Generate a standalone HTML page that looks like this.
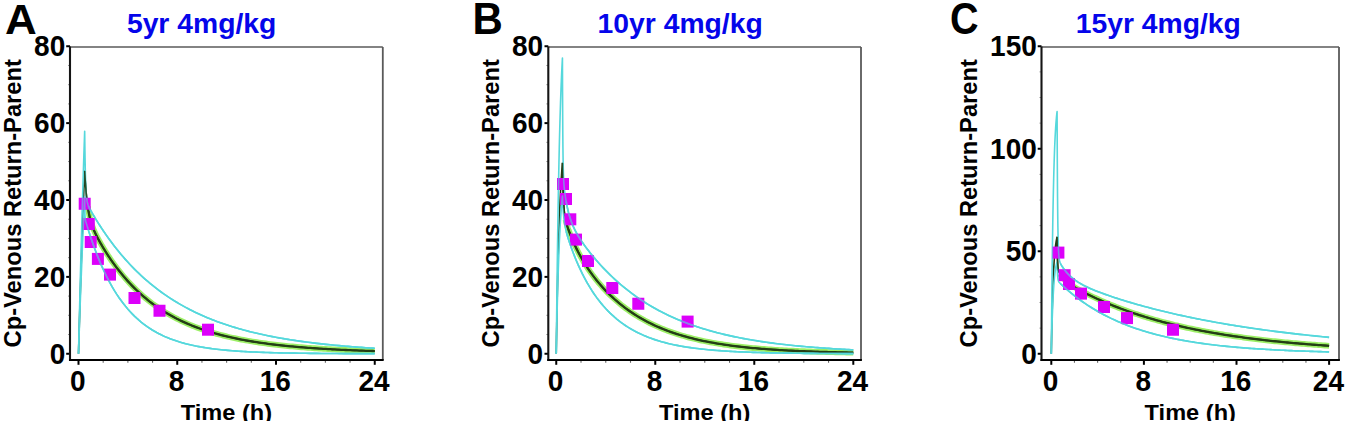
<!DOCTYPE html>
<html><head><meta charset="utf-8"><style>
html,body{margin:0;padding:0;background:#fff;}
svg{display:block;}
text{font-family:'Liberation Sans', sans-serif;}
</style></head><body>
<svg width="1350" height="424" viewBox="0 0 1350 424">
<rect width="1350" height="424" fill="#fff"/>
<line x1="70" y1="47" x2="382.8" y2="47" stroke="#5a5a5a" stroke-width="1.6"/>
<line x1="382.8" y1="47" x2="382.8" y2="360" stroke="#5a5a5a" stroke-width="1.8"/>
<line x1="66.2" y1="353.75" x2="70" y2="353.75" stroke="#000" stroke-width="2"/>
<line x1="68" y1="334.53" x2="70" y2="334.53" stroke="#999" stroke-width="1"/>
<line x1="68" y1="315.31" x2="70" y2="315.31" stroke="#999" stroke-width="1"/>
<line x1="68" y1="296.09" x2="70" y2="296.09" stroke="#999" stroke-width="1"/>
<line x1="66.2" y1="276.88" x2="70" y2="276.88" stroke="#000" stroke-width="2"/>
<line x1="68" y1="257.66" x2="70" y2="257.66" stroke="#999" stroke-width="1"/>
<line x1="68" y1="238.44" x2="70" y2="238.44" stroke="#999" stroke-width="1"/>
<line x1="68" y1="219.22" x2="70" y2="219.22" stroke="#999" stroke-width="1"/>
<line x1="66.2" y1="200.00" x2="70" y2="200.00" stroke="#000" stroke-width="2"/>
<line x1="68" y1="180.78" x2="70" y2="180.78" stroke="#999" stroke-width="1"/>
<line x1="68" y1="161.56" x2="70" y2="161.56" stroke="#999" stroke-width="1"/>
<line x1="68" y1="142.34" x2="70" y2="142.34" stroke="#999" stroke-width="1"/>
<line x1="66.2" y1="123.12" x2="70" y2="123.12" stroke="#000" stroke-width="2"/>
<line x1="68" y1="103.91" x2="70" y2="103.91" stroke="#999" stroke-width="1"/>
<line x1="68" y1="84.69" x2="70" y2="84.69" stroke="#999" stroke-width="1"/>
<line x1="68" y1="65.47" x2="70" y2="65.47" stroke="#999" stroke-width="1"/>
<line x1="66.2" y1="46.25" x2="70" y2="46.25" stroke="#000" stroke-width="2"/>
<line x1="78.50" y1="360" x2="78.50" y2="364.8" stroke="#000" stroke-width="2"/>
<line x1="103.19" y1="360" x2="103.19" y2="362.8" stroke="#666" stroke-width="1.1"/>
<line x1="127.88" y1="360" x2="127.88" y2="362.8" stroke="#666" stroke-width="1.1"/>
<line x1="152.56" y1="360" x2="152.56" y2="362.8" stroke="#666" stroke-width="1.1"/>
<line x1="177.25" y1="360" x2="177.25" y2="364.8" stroke="#000" stroke-width="2"/>
<line x1="201.94" y1="360" x2="201.94" y2="362.8" stroke="#666" stroke-width="1.1"/>
<line x1="226.62" y1="360" x2="226.62" y2="362.8" stroke="#666" stroke-width="1.1"/>
<line x1="251.31" y1="360" x2="251.31" y2="362.8" stroke="#666" stroke-width="1.1"/>
<line x1="276.00" y1="360" x2="276.00" y2="364.8" stroke="#000" stroke-width="2"/>
<line x1="300.69" y1="360" x2="300.69" y2="362.8" stroke="#666" stroke-width="1.1"/>
<line x1="325.38" y1="360" x2="325.38" y2="362.8" stroke="#666" stroke-width="1.1"/>
<line x1="350.06" y1="360" x2="350.06" y2="362.8" stroke="#666" stroke-width="1.1"/>
<line x1="374.75" y1="360" x2="374.75" y2="364.8" stroke="#000" stroke-width="2"/>
<line x1="70" y1="46.5" x2="70" y2="361" stroke="#151515" stroke-width="2.1"/>
<line x1="69" y1="360" x2="383.7" y2="360" stroke="#000" stroke-width="2"/>
<text transform="translate(65.2,363.55) scale(1,1.05)" text-anchor="end" font-size="28" font-weight="bold">0</text>
<text transform="translate(65.2,286.68) scale(1,1.05)" text-anchor="end" font-size="28" font-weight="bold">20</text>
<text transform="translate(65.2,209.80) scale(1,1.05)" text-anchor="end" font-size="28" font-weight="bold">40</text>
<text transform="translate(65.2,132.93) scale(1,1.05)" text-anchor="end" font-size="28" font-weight="bold">60</text>
<text transform="translate(65.2,56.05) scale(1,1.05)" text-anchor="end" font-size="28" font-weight="bold">80</text>
<text transform="translate(77.80,390.9) scale(1,1.05)" text-anchor="middle" font-size="28" font-weight="bold">0</text>
<text transform="translate(176.55,390.9) scale(1,1.05)" text-anchor="middle" font-size="28" font-weight="bold">8</text>
<text transform="translate(275.30,390.9) scale(1,1.05)" text-anchor="middle" font-size="28" font-weight="bold">16</text>
<text transform="translate(374.05,390.9) scale(1,1.05)" text-anchor="middle" font-size="28" font-weight="bold">24</text>
<text transform="translate(226.40,420.0) scale(1,0.95)" text-anchor="middle" font-size="23.6" font-weight="bold">Time (h)</text>
<text transform="translate(20.6,203.3) rotate(-90)" x="0" y="0" text-anchor="middle" font-size="23.7" font-weight="bold">Cp-Venous Return-Parent</text>
<text transform="translate(5.0,34.1) scale(1.0,0.965)" font-size="44" font-weight="bold">A</text>
<text transform="translate(126.9,33.4)" font-size="28.3" font-weight="bold" fill="#0505ea">5yr 4mg/kg</text>
<path d="M87.76,206.42 L87.88,207.26 L88.00,208.08 L88.13,208.86 L88.25,209.63 L88.38,210.37 L88.50,211.08 L88.62,211.78 L88.75,212.45 L88.87,213.10 L88.99,213.74 L89.12,214.35 L89.24,214.95 L89.36,215.53 L89.49,216.10 L89.61,216.65 L89.73,217.19 L89.86,217.71 L89.98,218.22 L90.10,218.72 L90.23,219.20 L90.35,219.68 L90.47,220.14 L90.60,220.59 L90.72,221.04 L90.84,221.47 L91.09,222.31 L91.56,223.81 L92.03,225.21 L92.50,226.53 L92.96,227.77 L93.43,228.96 L93.90,230.09 L94.37,231.17 L94.84,232.22 L95.31,233.23 L95.77,234.22 L96.24,235.18 L96.71,236.11 L97.18,237.03 L97.65,237.93 L98.12,238.82 L98.59,239.69 L99.05,240.55 L99.52,241.40 L99.99,242.24 L100.46,243.06 L100.93,243.88 L101.40,244.69 L101.86,245.49 L102.33,246.29 L102.80,247.08 L103.27,247.85 L103.74,248.63 L104.21,249.39 L104.68,250.15 L105.14,250.91 L105.61,251.65 L106.08,252.39 L106.55,253.13 L107.02,253.86 L107.49,254.58 L107.95,255.30 L108.42,256.01 L108.89,256.71 L109.36,257.42 L109.98,258.33 L112.20,261.55 L114.43,264.66 L116.65,267.66 L118.88,270.55 L121.10,273.33 L123.33,276.02 L125.55,278.62 L127.78,281.12 L130.00,283.54 L132.23,285.87 L134.45,288.11 L136.68,290.28 L138.90,292.37 L141.13,294.39 L143.35,296.34 L145.58,298.23 L147.80,300.04 L150.03,301.79 L152.25,303.49 L154.48,305.12 L156.70,306.70 L158.93,308.22 L161.15,309.69 L163.38,311.11 L165.60,312.48 L167.83,313.80 L170.05,315.08 L172.28,316.32 L174.50,317.51 L176.73,318.66 L178.95,319.77 L181.18,320.85 L183.40,321.89 L185.63,322.89 L187.85,323.86 L190.08,324.80 L192.30,325.70 L194.53,326.58 L196.75,327.42 L198.98,328.24 L201.20,329.03 L203.43,329.79 L205.65,330.53 L207.88,331.25 L210.10,331.94 L212.33,332.60 L214.55,333.25 L216.78,333.87 L219.00,334.48 L221.23,335.06 L223.45,335.63 L225.68,336.17 L227.90,336.70 L230.13,337.21 L232.35,337.71 L234.58,338.19 L236.80,338.65 L239.03,339.10 L241.25,339.53 L243.48,339.95 L245.70,340.36 L247.93,340.75 L250.15,341.13 L252.38,341.50 L254.60,341.86 L256.83,342.21 L259.05,342.54 L261.28,342.87 L263.50,343.18 L265.73,343.48 L267.95,343.78 L270.18,344.07 L272.40,344.34 L274.63,344.61 L276.85,344.87 L279.08,345.12 L281.30,345.37 L283.53,345.60 L285.75,345.83 L287.98,346.06 L290.20,346.27 L292.43,346.48 L294.65,346.68 L296.88,346.88 L299.10,347.07 L301.33,347.26 L303.55,347.43 L305.78,347.61 L308.00,347.78 L310.23,347.94 L312.45,348.10 L314.68,348.25 L316.90,348.40 L319.13,348.55 L321.35,348.69 L323.58,348.83 L325.80,348.96 L328.03,349.09 L330.25,349.21 L332.48,349.33 L334.70,349.45 L336.93,349.57 L339.15,349.68 L341.38,349.79 L343.60,349.89 L345.83,349.99 L348.05,350.09 L350.28,350.19 L352.50,350.28 L354.73,350.37 L356.95,350.46 L359.18,350.55 L361.40,350.63 L363.63,350.71 L365.85,350.79 L368.08,350.87 L370.30,350.94 L372.53,351.01 L374.75,351.08" fill="none" stroke="#9cef66" stroke-width="5.8" stroke-linejoin="round"/>
<path d="M78.50,353.75 L78.66,348.09 L78.82,342.49 L78.97,336.95 L79.13,331.47 L79.29,326.04 L79.45,320.67 L79.61,315.35 L79.77,310.08 L79.92,304.87 L80.08,299.71 L80.24,294.61 L80.40,289.56 L80.56,284.55 L80.72,279.60 L80.87,274.70 L81.03,269.85 L81.19,265.05 L81.35,260.30 L81.51,255.60 L81.67,250.95 L81.82,246.34 L81.98,241.78 L82.14,237.26 L82.30,232.80 L82.46,228.37 L82.61,224.00 L82.77,219.66 L82.93,215.38 L83.09,211.13 L83.25,206.93 L83.41,202.77 L83.56,198.66 L83.72,194.58 L83.88,190.55 L84.04,186.56 L84.20,182.61 L84.36,178.70 L84.51,174.83 L84.67,171.00 L84.67,171.00 L84.80,173.20 L84.92,175.30 L85.04,177.33 L85.17,179.27 L85.29,181.13 L85.41,182.91 L85.54,184.63 L85.66,186.27 L85.78,187.86 L85.91,189.38 L86.03,190.84 L86.15,192.24 L86.28,193.59 L86.40,194.89 L86.52,196.14 L86.65,197.35 L86.77,198.51 L86.89,199.63 L87.02,200.70 L87.14,201.74 L87.26,202.75 L87.39,203.71 L87.51,204.65 L87.63,205.55 L87.76,206.42 L87.88,207.26 L88.00,208.08 L88.13,208.86 L88.25,209.63 L88.38,210.37 L88.50,211.08 L88.62,211.78 L88.75,212.45 L88.87,213.10 L88.99,213.74 L89.12,214.35 L89.24,214.95 L89.36,215.53 L89.49,216.10 L89.61,216.65 L89.73,217.19 L89.86,217.71 L89.98,218.22 L90.10,218.72 L90.23,219.20 L90.35,219.68 L90.47,220.14 L90.60,220.59 L90.72,221.04 L90.84,221.47 L91.09,222.31 L91.56,223.81 L92.03,225.21 L92.50,226.53 L92.96,227.77 L93.43,228.96 L93.90,230.09 L94.37,231.17 L94.84,232.22 L95.31,233.23 L95.77,234.22 L96.24,235.18 L96.71,236.11 L97.18,237.03 L97.65,237.93 L98.12,238.82 L98.59,239.69 L99.05,240.55 L99.52,241.40 L99.99,242.24 L100.46,243.06 L100.93,243.88 L101.40,244.69 L101.86,245.49 L102.33,246.29 L102.80,247.08 L103.27,247.85 L103.74,248.63 L104.21,249.39 L104.68,250.15 L105.14,250.91 L105.61,251.65 L106.08,252.39 L106.55,253.13 L107.02,253.86 L107.49,254.58 L107.95,255.30 L108.42,256.01 L108.89,256.71 L109.36,257.42 L109.98,258.33 L112.20,261.55 L114.43,264.66 L116.65,267.66 L118.88,270.55 L121.10,273.33 L123.33,276.02 L125.55,278.62 L127.78,281.12 L130.00,283.54 L132.23,285.87 L134.45,288.11 L136.68,290.28 L138.90,292.37 L141.13,294.39 L143.35,296.34 L145.58,298.23 L147.80,300.04 L150.03,301.79 L152.25,303.49 L154.48,305.12 L156.70,306.70 L158.93,308.22 L161.15,309.69 L163.38,311.11 L165.60,312.48 L167.83,313.80 L170.05,315.08 L172.28,316.32 L174.50,317.51 L176.73,318.66 L178.95,319.77 L181.18,320.85 L183.40,321.89 L185.63,322.89 L187.85,323.86 L190.08,324.80 L192.30,325.70 L194.53,326.58 L196.75,327.42 L198.98,328.24 L201.20,329.03 L203.43,329.79 L205.65,330.53 L207.88,331.25 L210.10,331.94 L212.33,332.60 L214.55,333.25 L216.78,333.87 L219.00,334.48 L221.23,335.06 L223.45,335.63 L225.68,336.17 L227.90,336.70 L230.13,337.21 L232.35,337.71 L234.58,338.19 L236.80,338.65 L239.03,339.10 L241.25,339.53 L243.48,339.95 L245.70,340.36 L247.93,340.75 L250.15,341.13 L252.38,341.50 L254.60,341.86 L256.83,342.21 L259.05,342.54 L261.28,342.87 L263.50,343.18 L265.73,343.48 L267.95,343.78 L270.18,344.07 L272.40,344.34 L274.63,344.61 L276.85,344.87 L279.08,345.12 L281.30,345.37 L283.53,345.60 L285.75,345.83 L287.98,346.06 L290.20,346.27 L292.43,346.48 L294.65,346.68 L296.88,346.88 L299.10,347.07 L301.33,347.26 L303.55,347.43 L305.78,347.61 L308.00,347.78 L310.23,347.94 L312.45,348.10 L314.68,348.25 L316.90,348.40 L319.13,348.55 L321.35,348.69 L323.58,348.83 L325.80,348.96 L328.03,349.09 L330.25,349.21 L332.48,349.33 L334.70,349.45 L336.93,349.57 L339.15,349.68 L341.38,349.79 L343.60,349.89 L345.83,349.99 L348.05,350.09 L350.28,350.19 L352.50,350.28 L354.73,350.37 L356.95,350.46 L359.18,350.55 L361.40,350.63 L363.63,350.71 L365.85,350.79 L368.08,350.87 L370.30,350.94 L372.53,351.01 L374.75,351.08" fill="none" stroke="#243e16" stroke-width="1.6" stroke-linejoin="round"/>
<path d="M87.76,206.42 L87.88,207.26 L88.00,208.08 L88.13,208.86 L88.25,209.63 L88.38,210.37 L88.50,211.08 L88.62,211.78 L88.75,212.45 L88.87,213.10 L88.99,213.74 L89.12,214.35 L89.24,214.95 L89.36,215.53 L89.49,216.10 L89.61,216.65 L89.73,217.19 L89.86,217.71 L89.98,218.22 L90.10,218.72 L90.23,219.20 L90.35,219.68 L90.47,220.14 L90.60,220.59 L90.72,221.04 L90.84,221.47 L91.09,222.31 L91.56,223.81 L92.03,225.21 L92.50,226.53 L92.96,227.77 L93.43,228.96 L93.90,230.09 L94.37,231.17 L94.84,232.22 L95.31,233.23 L95.77,234.22 L96.24,235.18 L96.71,236.11 L97.18,237.03 L97.65,237.93 L98.12,238.82 L98.59,239.69 L99.05,240.55 L99.52,241.40 L99.99,242.24 L100.46,243.06 L100.93,243.88 L101.40,244.69 L101.86,245.49 L102.33,246.29 L102.80,247.08 L103.27,247.85 L103.74,248.63 L104.21,249.39 L104.68,250.15 L105.14,250.91 L105.61,251.65 L106.08,252.39 L106.55,253.13 L107.02,253.86 L107.49,254.58 L107.95,255.30 L108.42,256.01 L108.89,256.71 L109.36,257.42 L109.98,258.33 L112.20,261.55 L114.43,264.66 L116.65,267.66 L118.88,270.55 L121.10,273.33 L123.33,276.02 L125.55,278.62 L127.78,281.12 L130.00,283.54 L132.23,285.87 L134.45,288.11 L136.68,290.28 L138.90,292.37 L141.13,294.39 L143.35,296.34 L145.58,298.23 L147.80,300.04 L150.03,301.79 L152.25,303.49 L154.48,305.12 L156.70,306.70 L158.93,308.22 L161.15,309.69 L163.38,311.11 L165.60,312.48 L167.83,313.80 L170.05,315.08 L172.28,316.32 L174.50,317.51 L176.73,318.66 L178.95,319.77 L181.18,320.85 L183.40,321.89 L185.63,322.89 L187.85,323.86 L190.08,324.80 L192.30,325.70 L194.53,326.58 L196.75,327.42 L198.98,328.24 L201.20,329.03 L203.43,329.79 L205.65,330.53 L207.88,331.25 L210.10,331.94 L212.33,332.60 L214.55,333.25 L216.78,333.87 L219.00,334.48 L221.23,335.06 L223.45,335.63 L225.68,336.17 L227.90,336.70 L230.13,337.21 L232.35,337.71 L234.58,338.19 L236.80,338.65 L239.03,339.10 L241.25,339.53 L243.48,339.95 L245.70,340.36 L247.93,340.75 L250.15,341.13 L252.38,341.50 L254.60,341.86 L256.83,342.21 L259.05,342.54 L261.28,342.87 L263.50,343.18 L265.73,343.48 L267.95,343.78 L270.18,344.07 L272.40,344.34 L274.63,344.61 L276.85,344.87 L279.08,345.12 L281.30,345.37 L283.53,345.60 L285.75,345.83 L287.98,346.06 L290.20,346.27 L292.43,346.48 L294.65,346.68 L296.88,346.88 L299.10,347.07 L301.33,347.26 L303.55,347.43 L305.78,347.61 L308.00,347.78 L310.23,347.94 L312.45,348.10 L314.68,348.25 L316.90,348.40 L319.13,348.55 L321.35,348.69 L323.58,348.83 L325.80,348.96 L328.03,349.09 L330.25,349.21 L332.48,349.33 L334.70,349.45 L336.93,349.57 L339.15,349.68 L341.38,349.79 L343.60,349.89 L345.83,349.99 L348.05,350.09 L350.28,350.19 L352.50,350.28 L354.73,350.37 L356.95,350.46 L359.18,350.55 L361.40,350.63 L363.63,350.71 L365.85,350.79 L368.08,350.87 L370.30,350.94 L372.53,351.01 L374.75,351.08" fill="none" stroke="#243e16" stroke-width="2.3" stroke-linejoin="round"/>
<path d="M78.50,353.75 L78.66,346.86 L78.82,340.05 L78.97,333.30 L79.13,326.62 L79.29,320.01 L79.45,313.47 L79.61,306.99 L79.77,300.58 L79.92,294.24 L80.08,287.96 L80.24,281.75 L80.40,275.59 L80.56,269.50 L80.72,263.48 L80.87,257.51 L81.03,251.61 L81.19,245.76 L81.35,239.98 L81.51,234.25 L81.67,228.59 L81.82,222.98 L81.98,217.42 L82.14,211.93 L82.30,206.49 L82.46,201.10 L82.61,195.78 L82.77,190.50 L82.93,185.28 L83.09,180.11 L83.25,175.00 L83.41,169.94 L83.56,164.92 L83.72,159.96 L83.88,155.06 L84.04,150.20 L84.20,145.39 L84.36,140.63 L84.51,135.91 L84.67,131.25 L84.67,131.25 L84.80,141.53 L84.92,150.33 L85.04,157.87 L85.17,164.34 L85.29,169.89 L85.41,174.66 L85.54,178.76 L85.66,182.29 L85.78,185.34 L85.91,187.97 L86.03,190.25 L86.15,192.23 L86.28,193.95 L86.40,195.45 L86.52,196.77 L86.65,197.92 L86.77,198.94 L86.89,199.84 L87.02,200.64 L87.14,201.35 L87.26,202.00 L87.39,202.58 L87.51,203.11 L87.63,203.59 L87.76,204.04 L87.88,204.45 L88.00,204.83 L88.13,205.19 L88.25,205.53 L88.38,205.85 L88.50,206.16 L88.62,206.45 L88.75,206.74 L88.87,207.01 L88.99,207.27 L89.12,207.53 L89.24,207.78 L89.36,208.03 L89.49,208.27 L89.61,208.51 L89.73,208.74 L89.86,208.98 L89.98,209.21 L90.10,209.43 L90.23,209.66 L90.35,209.88 L90.47,210.10 L90.60,210.33 L90.72,210.54 L90.84,210.76 L91.09,211.20 L91.56,212.01 L92.03,212.82 L92.50,213.62 L92.96,214.42 L93.43,215.21 L93.90,215.99 L94.37,216.77 L94.84,217.55 L95.31,218.32 L95.77,219.08 L96.24,219.84 L96.71,220.60 L97.18,221.35 L97.65,222.10 L98.12,222.85 L98.59,223.59 L99.05,224.32 L99.52,225.05 L99.99,225.78 L100.46,226.50 L100.93,227.22 L101.40,227.93 L101.86,228.64 L102.33,229.35 L102.80,230.05 L103.27,230.74 L103.74,231.44 L104.21,232.13 L104.68,232.81 L105.14,233.49 L105.61,234.17 L106.08,234.84 L106.55,235.51 L107.02,236.18 L107.49,236.84 L107.95,237.50 L108.42,238.15 L108.89,238.80 L109.36,239.45 L109.98,240.29 L112.20,243.28 L114.43,246.20 L116.65,249.03 L118.88,251.78 L121.10,254.46 L123.33,257.07 L125.55,259.60 L127.78,262.07 L130.00,264.47 L132.23,266.81 L134.45,269.08 L136.68,271.29 L138.90,273.44 L141.13,275.53 L143.35,277.56 L145.58,279.54 L147.80,281.47 L150.03,283.35 L152.25,285.17 L154.48,286.95 L156.70,288.68 L158.93,290.36 L161.15,292.00 L163.38,293.59 L165.60,295.14 L167.83,296.65 L170.05,298.12 L172.28,299.55 L174.50,300.94 L176.73,302.30 L178.95,303.62 L181.18,304.90 L183.40,306.15 L185.63,307.37 L187.85,308.56 L190.08,309.71 L192.30,310.83 L194.53,311.93 L196.75,312.99 L198.98,314.03 L201.20,315.04 L203.43,316.02 L205.65,316.98 L207.88,317.91 L210.10,318.82 L212.33,319.71 L214.55,320.57 L216.78,321.41 L219.00,322.23 L221.23,323.02 L223.45,323.80 L225.68,324.55 L227.90,325.29 L230.13,326.01 L232.35,326.70 L234.58,327.38 L236.80,328.05 L239.03,328.69 L241.25,329.32 L243.48,329.93 L245.70,330.53 L247.93,331.11 L250.15,331.68 L252.38,332.23 L254.60,332.77 L256.83,333.29 L259.05,333.80 L261.28,334.30 L263.50,334.78 L265.73,335.26 L267.95,335.72 L270.18,336.17 L272.40,336.60 L274.63,337.03 L276.85,337.44 L279.08,337.85 L281.30,338.24 L283.53,338.63 L285.75,339.00 L287.98,339.37 L290.20,339.72 L292.43,340.07 L294.65,340.41 L296.88,340.74 L299.10,341.06 L301.33,341.37 L303.55,341.68 L305.78,341.97 L308.00,342.26 L310.23,342.55 L312.45,342.82 L314.68,343.09 L316.90,343.35 L319.13,343.61 L321.35,343.86 L323.58,344.10 L325.80,344.34 L328.03,344.57 L330.25,344.79 L332.48,345.01 L334.70,345.23 L336.93,345.44 L339.15,345.64 L341.38,345.84 L343.60,346.03 L345.83,346.22 L348.05,346.40 L350.28,346.58 L352.50,346.76 L354.73,346.93 L356.95,347.09 L359.18,347.26 L361.40,347.41 L363.63,347.57 L365.85,347.72 L368.08,347.87 L370.30,348.01 L372.53,348.15 L374.75,348.28" fill="none" stroke="#55d8dc" stroke-width="1.6" stroke-linejoin="round"/>
<path d="M78.50,353.75 L78.66,348.90 L78.82,344.10 L78.97,339.34 L79.13,334.64 L79.29,329.98 L79.45,325.37 L79.61,320.81 L79.77,316.30 L79.92,311.83 L80.08,307.40 L80.24,303.02 L80.40,298.69 L80.56,294.40 L80.72,290.15 L80.87,285.95 L81.03,281.79 L81.19,277.67 L81.35,273.60 L81.51,269.56 L81.67,265.57 L81.82,261.62 L81.98,257.71 L82.14,253.84 L82.30,250.01 L82.46,246.21 L82.61,242.46 L82.77,238.74 L82.93,235.06 L83.09,231.42 L83.25,227.82 L83.41,224.25 L83.56,220.72 L83.72,217.23 L83.88,213.77 L84.04,210.35 L84.20,206.96 L84.36,203.61 L84.51,200.29 L84.67,197.00 L84.67,197.00 L84.80,208.20 L84.92,213.77 L85.04,216.65 L85.17,218.24 L85.29,219.23 L85.41,219.92 L85.54,220.47 L85.66,220.95 L85.78,221.41 L85.91,221.84 L86.03,222.27 L86.15,222.69 L86.28,223.11 L86.40,223.52 L86.52,223.94 L86.65,224.35 L86.77,224.76 L86.89,225.17 L87.02,225.58 L87.14,225.99 L87.26,226.39 L87.39,226.80 L87.51,227.20 L87.63,227.61 L87.76,228.01 L87.88,228.41 L88.00,228.81 L88.13,229.20 L88.25,229.60 L88.38,229.99 L88.50,230.39 L88.62,230.78 L88.75,231.17 L88.87,231.56 L88.99,231.95 L89.12,232.34 L89.24,232.72 L89.36,233.11 L89.49,233.49 L89.61,233.87 L89.73,234.26 L89.86,234.64 L89.98,235.01 L90.10,235.39 L90.23,235.77 L90.35,236.14 L90.47,236.52 L90.60,236.89 L90.72,237.26 L90.84,237.63 L91.09,238.37 L91.56,239.76 L92.03,241.13 L92.50,242.48 L92.96,243.82 L93.43,245.14 L93.90,246.44 L94.37,247.73 L94.84,249.01 L95.31,250.26 L95.77,251.51 L96.24,252.74 L96.71,253.95 L97.18,255.15 L97.65,256.33 L98.12,257.50 L98.59,258.66 L99.05,259.80 L99.52,260.93 L99.99,262.05 L100.46,263.15 L100.93,264.24 L101.40,265.31 L101.86,266.38 L102.33,267.43 L102.80,268.46 L103.27,269.49 L103.74,270.50 L104.21,271.50 L104.68,272.49 L105.14,273.47 L105.61,274.43 L106.08,275.38 L106.55,276.33 L107.02,277.26 L107.49,278.18 L107.95,279.08 L108.42,279.98 L108.89,280.87 L109.36,281.74 L109.98,282.88 L112.20,286.84 L114.43,290.57 L116.65,294.09 L118.88,297.42 L121.10,300.57 L123.33,303.53 L125.55,306.34 L127.78,308.98 L130.00,311.48 L132.23,313.84 L134.45,316.07 L136.68,318.17 L138.90,320.16 L141.13,322.03 L143.35,323.80 L145.58,325.47 L147.80,327.05 L150.03,328.54 L152.25,329.95 L154.48,331.27 L156.70,332.53 L158.93,333.71 L161.15,334.83 L163.38,335.89 L165.60,336.88 L167.83,337.82 L170.05,338.71 L172.28,339.55 L174.50,340.34 L176.73,341.09 L178.95,341.80 L181.18,342.47 L183.40,343.10 L185.63,343.69 L187.85,344.25 L190.08,344.78 L192.30,345.28 L194.53,345.75 L196.75,346.20 L198.98,346.62 L201.20,347.02 L203.43,347.40 L205.65,347.75 L207.88,348.08 L210.10,348.40 L212.33,348.70 L214.55,348.98 L216.78,349.25 L219.00,349.50 L221.23,349.74 L223.45,349.96 L225.68,350.17 L227.90,350.37 L230.13,350.56 L232.35,350.74 L234.58,350.91 L236.80,351.06 L239.03,351.21 L241.25,351.36 L243.48,351.49 L245.70,351.62 L247.93,351.73 L250.15,351.85 L252.38,351.95 L254.60,352.05 L256.83,352.15 L259.05,352.24 L261.28,352.32 L263.50,352.40 L265.73,352.48 L267.95,352.55 L270.18,352.62 L272.40,352.68 L274.63,352.74 L276.85,352.79 L279.08,352.85 L281.30,352.90 L283.53,352.95 L285.75,352.99 L287.98,353.03 L290.20,353.07 L292.43,353.11 L294.65,353.15 L296.88,353.18 L299.10,353.21 L301.33,353.24 L303.55,353.27 L305.78,353.30 L308.00,353.32 L310.23,353.35 L312.45,353.37 L314.68,353.39 L316.90,353.41 L319.13,353.43 L321.35,353.45 L323.58,353.46 L325.80,353.48 L328.03,353.49 L330.25,353.51 L332.48,353.52 L334.70,353.54 L336.93,353.55 L339.15,353.56 L341.38,353.57 L343.60,353.58 L345.83,353.59 L348.05,353.60 L350.28,353.61 L352.50,353.61 L354.73,353.62 L356.95,353.63 L359.18,353.64 L361.40,353.64 L363.63,353.65 L365.85,353.65 L368.08,353.66 L370.30,353.66 L372.53,353.67 L374.75,353.67" fill="none" stroke="#55d8dc" stroke-width="1.6" stroke-linejoin="round"/>
<path d="M88.38,205.85 L88.50,206.16 L88.62,206.45 L88.75,206.74 L88.87,207.01 L88.99,207.27 L89.12,207.53 L89.24,207.78 L89.36,208.03 L89.49,208.27 L89.61,208.51 L89.73,208.74 L89.86,208.98 L89.98,209.21 L90.10,209.43 L90.23,209.66 L90.35,209.88 L90.47,210.10 L90.60,210.33 L90.72,210.54 L90.84,210.76 L91.09,211.20 L91.56,212.01 L92.03,212.82 L92.50,213.62 L92.96,214.42 L93.43,215.21 L93.90,215.99 L94.37,216.77 L94.84,217.55 L95.31,218.32 L95.77,219.08 L96.24,219.84 L96.71,220.60 L97.18,221.35 L97.65,222.10 L98.12,222.85 L98.59,223.59 L99.05,224.32 L99.52,225.05 L99.99,225.78 L100.46,226.50 L100.93,227.22 L101.40,227.93 L101.86,228.64 L102.33,229.35 L102.80,230.05 L103.27,230.74 L103.74,231.44 L104.21,232.13 L104.68,232.81 L105.14,233.49 L105.61,234.17 L106.08,234.84 L106.55,235.51 L107.02,236.18 L107.49,236.84 L107.95,237.50 L108.42,238.15 L108.89,238.80 L109.36,239.45 L109.98,240.29 L112.20,243.28 L114.43,246.20 L116.65,249.03 L118.88,251.78 L121.10,254.46 L123.33,257.07 L125.55,259.60 L127.78,262.07 L130.00,264.47 L132.23,266.81 L134.45,269.08 L136.68,271.29 L138.90,273.44 L141.13,275.53 L143.35,277.56 L145.58,279.54 L147.80,281.47 L150.03,283.35 L152.25,285.17 L154.48,286.95 L156.70,288.68 L158.93,290.36 L161.15,292.00 L163.38,293.59 L165.60,295.14 L167.83,296.65 L170.05,298.12 L172.28,299.55 L174.50,300.94 L176.73,302.30 L178.95,303.62 L181.18,304.90 L183.40,306.15 L185.63,307.37 L187.85,308.56 L190.08,309.71 L192.30,310.83 L194.53,311.93 L196.75,312.99 L198.98,314.03 L201.20,315.04 L203.43,316.02 L205.65,316.98 L207.88,317.91 L210.10,318.82 L212.33,319.71 L214.55,320.57 L216.78,321.41 L219.00,322.23 L221.23,323.02 L223.45,323.80 L225.68,324.55 L227.90,325.29 L230.13,326.01 L232.35,326.70 L234.58,327.38 L236.80,328.05 L239.03,328.69 L241.25,329.32 L243.48,329.93 L245.70,330.53 L247.93,331.11 L250.15,331.68 L252.38,332.23 L254.60,332.77 L256.83,333.29 L259.05,333.80 L261.28,334.30 L263.50,334.78 L265.73,335.26 L267.95,335.72 L270.18,336.17 L272.40,336.60 L274.63,337.03 L276.85,337.44 L279.08,337.85 L281.30,338.24 L283.53,338.63 L285.75,339.00 L287.98,339.37 L290.20,339.72 L292.43,340.07 L294.65,340.41 L296.88,340.74 L299.10,341.06 L301.33,341.37 L303.55,341.68 L305.78,341.97 L308.00,342.26 L310.23,342.55 L312.45,342.82 L314.68,343.09 L316.90,343.35 L319.13,343.61 L321.35,343.86 L323.58,344.10 L325.80,344.34 L328.03,344.57 L330.25,344.79 L332.48,345.01 L334.70,345.23 L336.93,345.44 L339.15,345.64 L341.38,345.84 L343.60,346.03 L345.83,346.22 L348.05,346.40 L350.28,346.58 L352.50,346.76 L354.73,346.93 L356.95,347.09 L359.18,347.26 L361.40,347.41 L363.63,347.57 L365.85,347.72 L368.08,347.87 L370.30,348.01 L372.53,348.15 L374.75,348.28" fill="none" stroke="#55d8dc" stroke-width="1.65" stroke-linejoin="round"/>
<path d="M88.38,229.99 L88.50,230.39 L88.62,230.78 L88.75,231.17 L88.87,231.56 L88.99,231.95 L89.12,232.34 L89.24,232.72 L89.36,233.11 L89.49,233.49 L89.61,233.87 L89.73,234.26 L89.86,234.64 L89.98,235.01 L90.10,235.39 L90.23,235.77 L90.35,236.14 L90.47,236.52 L90.60,236.89 L90.72,237.26 L90.84,237.63 L91.09,238.37 L91.56,239.76 L92.03,241.13 L92.50,242.48 L92.96,243.82 L93.43,245.14 L93.90,246.44 L94.37,247.73 L94.84,249.01 L95.31,250.26 L95.77,251.51 L96.24,252.74 L96.71,253.95 L97.18,255.15 L97.65,256.33 L98.12,257.50 L98.59,258.66 L99.05,259.80 L99.52,260.93 L99.99,262.05 L100.46,263.15 L100.93,264.24 L101.40,265.31 L101.86,266.38 L102.33,267.43 L102.80,268.46 L103.27,269.49 L103.74,270.50 L104.21,271.50 L104.68,272.49 L105.14,273.47 L105.61,274.43 L106.08,275.38 L106.55,276.33 L107.02,277.26 L107.49,278.18 L107.95,279.08 L108.42,279.98 L108.89,280.87 L109.36,281.74 L109.98,282.88 L112.20,286.84 L114.43,290.57 L116.65,294.09 L118.88,297.42 L121.10,300.57 L123.33,303.53 L125.55,306.34 L127.78,308.98 L130.00,311.48 L132.23,313.84 L134.45,316.07 L136.68,318.17 L138.90,320.16 L141.13,322.03 L143.35,323.80 L145.58,325.47 L147.80,327.05 L150.03,328.54 L152.25,329.95 L154.48,331.27 L156.70,332.53 L158.93,333.71 L161.15,334.83 L163.38,335.89 L165.60,336.88 L167.83,337.82 L170.05,338.71 L172.28,339.55 L174.50,340.34 L176.73,341.09 L178.95,341.80 L181.18,342.47 L183.40,343.10 L185.63,343.69 L187.85,344.25 L190.08,344.78 L192.30,345.28 L194.53,345.75 L196.75,346.20 L198.98,346.62 L201.20,347.02 L203.43,347.40 L205.65,347.75 L207.88,348.08 L210.10,348.40 L212.33,348.70 L214.55,348.98 L216.78,349.25 L219.00,349.50 L221.23,349.74 L223.45,349.96 L225.68,350.17 L227.90,350.37 L230.13,350.56 L232.35,350.74 L234.58,350.91 L236.80,351.06 L239.03,351.21 L241.25,351.36 L243.48,351.49 L245.70,351.62 L247.93,351.73 L250.15,351.85 L252.38,351.95 L254.60,352.05 L256.83,352.15 L259.05,352.24 L261.28,352.32 L263.50,352.40 L265.73,352.48 L267.95,352.55 L270.18,352.62 L272.40,352.68 L274.63,352.74 L276.85,352.79 L279.08,352.85 L281.30,352.90 L283.53,352.95 L285.75,352.99 L287.98,353.03 L290.20,353.07 L292.43,353.11 L294.65,353.15 L296.88,353.18 L299.10,353.21 L301.33,353.24 L303.55,353.27 L305.78,353.30 L308.00,353.32 L310.23,353.35 L312.45,353.37 L314.68,353.39 L316.90,353.41 L319.13,353.43 L321.35,353.45 L323.58,353.46 L325.80,353.48 L328.03,353.49 L330.25,353.51 L332.48,353.52 L334.70,353.54 L336.93,353.55 L339.15,353.56 L341.38,353.57 L343.60,353.58 L345.83,353.59 L348.05,353.60 L350.28,353.61 L352.50,353.61 L354.73,353.62 L356.95,353.63 L359.18,353.64 L361.40,353.64 L363.63,353.65 L365.85,353.65 L368.08,353.66 L370.30,353.66 L372.53,353.67 L374.75,353.67" fill="none" stroke="#55d8dc" stroke-width="1.65" stroke-linejoin="round"/>
<path d="M84.67,171.00 L84.80,173.20 L84.92,175.30 L85.04,177.33 L85.17,179.27 L85.29,181.13 L85.41,182.91 L85.54,184.63 L85.66,186.27 L85.78,187.86 L85.91,189.38 L86.03,190.84 L86.15,192.24 L86.28,193.59 L86.40,194.89 L86.52,196.14 L86.65,197.35 L86.77,198.51 L86.89,199.63 L87.02,200.70 L87.14,201.74" fill="none" stroke="#243e16" stroke-width="1.5" stroke-linejoin="round" opacity="0.9"/>
<clipPath id="mkA"><rect x="78.70" y="197.75" width="12" height="12"/><rect x="82.80" y="218.00" width="12" height="12"/><rect x="84.70" y="236.00" width="12" height="12"/><rect x="91.90" y="252.90" width="12" height="12"/><rect x="104.00" y="268.60" width="12" height="12"/><rect x="128.50" y="292.00" width="12" height="12"/><rect x="153.50" y="304.75" width="12" height="12"/><rect x="202.00" y="323.70" width="12" height="12"/></clipPath>
<rect x="78.70" y="197.75" width="12" height="12" fill="#dc00fa"/>
<rect x="82.80" y="218.00" width="12" height="12" fill="#dc00fa"/>
<rect x="84.70" y="236.00" width="12" height="12" fill="#dc00fa"/>
<rect x="91.90" y="252.90" width="12" height="12" fill="#dc00fa"/>
<rect x="104.00" y="268.60" width="12" height="12" fill="#dc00fa"/>
<rect x="128.50" y="292.00" width="12" height="12" fill="#dc00fa"/>
<rect x="153.50" y="304.75" width="12" height="12" fill="#dc00fa"/>
<rect x="202.00" y="323.70" width="12" height="12" fill="#dc00fa"/>
<g clip-path="url(#mkA)" opacity="0.6"><path d="M78.50,353.75 L78.66,346.86 L78.82,340.05 L78.97,333.30 L79.13,326.62 L79.29,320.01 L79.45,313.47 L79.61,306.99 L79.77,300.58 L79.92,294.24 L80.08,287.96 L80.24,281.75 L80.40,275.59 L80.56,269.50 L80.72,263.48 L80.87,257.51 L81.03,251.61 L81.19,245.76 L81.35,239.98 L81.51,234.25 L81.67,228.59 L81.82,222.98 L81.98,217.42 L82.14,211.93 L82.30,206.49 L82.46,201.10 L82.61,195.78 L82.77,190.50 L82.93,185.28 L83.09,180.11 L83.25,175.00 L83.41,169.94 L83.56,164.92 L83.72,159.96 L83.88,155.06 L84.04,150.20 L84.20,145.39 L84.36,140.63 L84.51,135.91 L84.67,131.25 L84.67,131.25 L84.80,141.53 L84.92,150.33 L85.04,157.87 L85.17,164.34 L85.29,169.89 L85.41,174.66 L85.54,178.76 L85.66,182.29 L85.78,185.34 L85.91,187.97 L86.03,190.25 L86.15,192.23 L86.28,193.95 L86.40,195.45 L86.52,196.77 L86.65,197.92 L86.77,198.94 L86.89,199.84 L87.02,200.64 L87.14,201.35 L87.26,202.00 L87.39,202.58 L87.51,203.11 L87.63,203.59 L87.76,204.04 L87.88,204.45 L88.00,204.83 L88.13,205.19 L88.25,205.53 L88.38,205.85 L88.50,206.16 L88.62,206.45 L88.75,206.74 L88.87,207.01 L88.99,207.27 L89.12,207.53 L89.24,207.78 L89.36,208.03 L89.49,208.27 L89.61,208.51 L89.73,208.74 L89.86,208.98 L89.98,209.21 L90.10,209.43 L90.23,209.66 L90.35,209.88 L90.47,210.10 L90.60,210.33 L90.72,210.54 L90.84,210.76 L91.09,211.20 L91.56,212.01 L92.03,212.82 L92.50,213.62 L92.96,214.42 L93.43,215.21 L93.90,215.99 L94.37,216.77 L94.84,217.55 L95.31,218.32 L95.77,219.08 L96.24,219.84 L96.71,220.60 L97.18,221.35 L97.65,222.10 L98.12,222.85 L98.59,223.59 L99.05,224.32 L99.52,225.05 L99.99,225.78 L100.46,226.50 L100.93,227.22 L101.40,227.93 L101.86,228.64 L102.33,229.35 L102.80,230.05 L103.27,230.74 L103.74,231.44 L104.21,232.13 L104.68,232.81 L105.14,233.49 L105.61,234.17 L106.08,234.84 L106.55,235.51 L107.02,236.18 L107.49,236.84 L107.95,237.50 L108.42,238.15 L108.89,238.80 L109.36,239.45 L109.98,240.29 L112.20,243.28 L114.43,246.20 L116.65,249.03 L118.88,251.78 L121.10,254.46 L123.33,257.07 L125.55,259.60 L127.78,262.07 L130.00,264.47 L132.23,266.81 L134.45,269.08 L136.68,271.29 L138.90,273.44 L141.13,275.53 L143.35,277.56 L145.58,279.54 L147.80,281.47 L150.03,283.35 L152.25,285.17 L154.48,286.95 L156.70,288.68 L158.93,290.36 L161.15,292.00 L163.38,293.59 L165.60,295.14 L167.83,296.65 L170.05,298.12 L172.28,299.55 L174.50,300.94 L176.73,302.30 L178.95,303.62 L181.18,304.90 L183.40,306.15 L185.63,307.37 L187.85,308.56 L190.08,309.71 L192.30,310.83 L194.53,311.93 L196.75,312.99 L198.98,314.03 L201.20,315.04 L203.43,316.02 L205.65,316.98 L207.88,317.91 L210.10,318.82 L212.33,319.71 L214.55,320.57 L216.78,321.41 L219.00,322.23 L221.23,323.02 L223.45,323.80 L225.68,324.55 L227.90,325.29 L230.13,326.01 L232.35,326.70 L234.58,327.38 L236.80,328.05 L239.03,328.69 L241.25,329.32 L243.48,329.93 L245.70,330.53 L247.93,331.11 L250.15,331.68 L252.38,332.23 L254.60,332.77 L256.83,333.29 L259.05,333.80 L261.28,334.30 L263.50,334.78 L265.73,335.26 L267.95,335.72 L270.18,336.17 L272.40,336.60 L274.63,337.03 L276.85,337.44 L279.08,337.85 L281.30,338.24 L283.53,338.63 L285.75,339.00 L287.98,339.37 L290.20,339.72 L292.43,340.07 L294.65,340.41 L296.88,340.74 L299.10,341.06 L301.33,341.37 L303.55,341.68 L305.78,341.97 L308.00,342.26 L310.23,342.55 L312.45,342.82 L314.68,343.09 L316.90,343.35 L319.13,343.61 L321.35,343.86 L323.58,344.10 L325.80,344.34 L328.03,344.57 L330.25,344.79 L332.48,345.01 L334.70,345.23 L336.93,345.44 L339.15,345.64 L341.38,345.84 L343.60,346.03 L345.83,346.22 L348.05,346.40 L350.28,346.58 L352.50,346.76 L354.73,346.93 L356.95,347.09 L359.18,347.26 L361.40,347.41 L363.63,347.57 L365.85,347.72 L368.08,347.87 L370.30,348.01 L372.53,348.15 L374.75,348.28" fill="none" stroke="#55d8dc" stroke-width="1.6" stroke-linejoin="round"/><path d="M78.50,353.75 L78.66,348.90 L78.82,344.10 L78.97,339.34 L79.13,334.64 L79.29,329.98 L79.45,325.37 L79.61,320.81 L79.77,316.30 L79.92,311.83 L80.08,307.40 L80.24,303.02 L80.40,298.69 L80.56,294.40 L80.72,290.15 L80.87,285.95 L81.03,281.79 L81.19,277.67 L81.35,273.60 L81.51,269.56 L81.67,265.57 L81.82,261.62 L81.98,257.71 L82.14,253.84 L82.30,250.01 L82.46,246.21 L82.61,242.46 L82.77,238.74 L82.93,235.06 L83.09,231.42 L83.25,227.82 L83.41,224.25 L83.56,220.72 L83.72,217.23 L83.88,213.77 L84.04,210.35 L84.20,206.96 L84.36,203.61 L84.51,200.29 L84.67,197.00 L84.67,197.00 L84.80,208.20 L84.92,213.77 L85.04,216.65 L85.17,218.24 L85.29,219.23 L85.41,219.92 L85.54,220.47 L85.66,220.95 L85.78,221.41 L85.91,221.84 L86.03,222.27 L86.15,222.69 L86.28,223.11 L86.40,223.52 L86.52,223.94 L86.65,224.35 L86.77,224.76 L86.89,225.17 L87.02,225.58 L87.14,225.99 L87.26,226.39 L87.39,226.80 L87.51,227.20 L87.63,227.61 L87.76,228.01 L87.88,228.41 L88.00,228.81 L88.13,229.20 L88.25,229.60 L88.38,229.99 L88.50,230.39 L88.62,230.78 L88.75,231.17 L88.87,231.56 L88.99,231.95 L89.12,232.34 L89.24,232.72 L89.36,233.11 L89.49,233.49 L89.61,233.87 L89.73,234.26 L89.86,234.64 L89.98,235.01 L90.10,235.39 L90.23,235.77 L90.35,236.14 L90.47,236.52 L90.60,236.89 L90.72,237.26 L90.84,237.63 L91.09,238.37 L91.56,239.76 L92.03,241.13 L92.50,242.48 L92.96,243.82 L93.43,245.14 L93.90,246.44 L94.37,247.73 L94.84,249.01 L95.31,250.26 L95.77,251.51 L96.24,252.74 L96.71,253.95 L97.18,255.15 L97.65,256.33 L98.12,257.50 L98.59,258.66 L99.05,259.80 L99.52,260.93 L99.99,262.05 L100.46,263.15 L100.93,264.24 L101.40,265.31 L101.86,266.38 L102.33,267.43 L102.80,268.46 L103.27,269.49 L103.74,270.50 L104.21,271.50 L104.68,272.49 L105.14,273.47 L105.61,274.43 L106.08,275.38 L106.55,276.33 L107.02,277.26 L107.49,278.18 L107.95,279.08 L108.42,279.98 L108.89,280.87 L109.36,281.74 L109.98,282.88 L112.20,286.84 L114.43,290.57 L116.65,294.09 L118.88,297.42 L121.10,300.57 L123.33,303.53 L125.55,306.34 L127.78,308.98 L130.00,311.48 L132.23,313.84 L134.45,316.07 L136.68,318.17 L138.90,320.16 L141.13,322.03 L143.35,323.80 L145.58,325.47 L147.80,327.05 L150.03,328.54 L152.25,329.95 L154.48,331.27 L156.70,332.53 L158.93,333.71 L161.15,334.83 L163.38,335.89 L165.60,336.88 L167.83,337.82 L170.05,338.71 L172.28,339.55 L174.50,340.34 L176.73,341.09 L178.95,341.80 L181.18,342.47 L183.40,343.10 L185.63,343.69 L187.85,344.25 L190.08,344.78 L192.30,345.28 L194.53,345.75 L196.75,346.20 L198.98,346.62 L201.20,347.02 L203.43,347.40 L205.65,347.75 L207.88,348.08 L210.10,348.40 L212.33,348.70 L214.55,348.98 L216.78,349.25 L219.00,349.50 L221.23,349.74 L223.45,349.96 L225.68,350.17 L227.90,350.37 L230.13,350.56 L232.35,350.74 L234.58,350.91 L236.80,351.06 L239.03,351.21 L241.25,351.36 L243.48,351.49 L245.70,351.62 L247.93,351.73 L250.15,351.85 L252.38,351.95 L254.60,352.05 L256.83,352.15 L259.05,352.24 L261.28,352.32 L263.50,352.40 L265.73,352.48 L267.95,352.55 L270.18,352.62 L272.40,352.68 L274.63,352.74 L276.85,352.79 L279.08,352.85 L281.30,352.90 L283.53,352.95 L285.75,352.99 L287.98,353.03 L290.20,353.07 L292.43,353.11 L294.65,353.15 L296.88,353.18 L299.10,353.21 L301.33,353.24 L303.55,353.27 L305.78,353.30 L308.00,353.32 L310.23,353.35 L312.45,353.37 L314.68,353.39 L316.90,353.41 L319.13,353.43 L321.35,353.45 L323.58,353.46 L325.80,353.48 L328.03,353.49 L330.25,353.51 L332.48,353.52 L334.70,353.54 L336.93,353.55 L339.15,353.56 L341.38,353.57 L343.60,353.58 L345.83,353.59 L348.05,353.60 L350.28,353.61 L352.50,353.61 L354.73,353.62 L356.95,353.63 L359.18,353.64 L361.40,353.64 L363.63,353.65 L365.85,353.65 L368.08,353.66 L370.30,353.66 L372.53,353.67 L374.75,353.67" fill="none" stroke="#55d8dc" stroke-width="1.6" stroke-linejoin="round"/><path d="M88.38,205.85 L88.50,206.16 L88.62,206.45 L88.75,206.74 L88.87,207.01 L88.99,207.27 L89.12,207.53 L89.24,207.78 L89.36,208.03 L89.49,208.27 L89.61,208.51 L89.73,208.74 L89.86,208.98 L89.98,209.21 L90.10,209.43 L90.23,209.66 L90.35,209.88 L90.47,210.10 L90.60,210.33 L90.72,210.54 L90.84,210.76 L91.09,211.20 L91.56,212.01 L92.03,212.82 L92.50,213.62 L92.96,214.42 L93.43,215.21 L93.90,215.99 L94.37,216.77 L94.84,217.55 L95.31,218.32 L95.77,219.08 L96.24,219.84 L96.71,220.60 L97.18,221.35 L97.65,222.10 L98.12,222.85 L98.59,223.59 L99.05,224.32 L99.52,225.05 L99.99,225.78 L100.46,226.50 L100.93,227.22 L101.40,227.93 L101.86,228.64 L102.33,229.35 L102.80,230.05 L103.27,230.74 L103.74,231.44 L104.21,232.13 L104.68,232.81 L105.14,233.49 L105.61,234.17 L106.08,234.84 L106.55,235.51 L107.02,236.18 L107.49,236.84 L107.95,237.50 L108.42,238.15 L108.89,238.80 L109.36,239.45 L109.98,240.29 L112.20,243.28 L114.43,246.20 L116.65,249.03 L118.88,251.78 L121.10,254.46 L123.33,257.07 L125.55,259.60 L127.78,262.07 L130.00,264.47 L132.23,266.81 L134.45,269.08 L136.68,271.29 L138.90,273.44 L141.13,275.53 L143.35,277.56 L145.58,279.54 L147.80,281.47 L150.03,283.35 L152.25,285.17 L154.48,286.95 L156.70,288.68 L158.93,290.36 L161.15,292.00 L163.38,293.59 L165.60,295.14 L167.83,296.65 L170.05,298.12 L172.28,299.55 L174.50,300.94 L176.73,302.30 L178.95,303.62 L181.18,304.90 L183.40,306.15 L185.63,307.37 L187.85,308.56 L190.08,309.71 L192.30,310.83 L194.53,311.93 L196.75,312.99 L198.98,314.03 L201.20,315.04 L203.43,316.02 L205.65,316.98 L207.88,317.91 L210.10,318.82 L212.33,319.71 L214.55,320.57 L216.78,321.41 L219.00,322.23 L221.23,323.02 L223.45,323.80 L225.68,324.55 L227.90,325.29 L230.13,326.01 L232.35,326.70 L234.58,327.38 L236.80,328.05 L239.03,328.69 L241.25,329.32 L243.48,329.93 L245.70,330.53 L247.93,331.11 L250.15,331.68 L252.38,332.23 L254.60,332.77 L256.83,333.29 L259.05,333.80 L261.28,334.30 L263.50,334.78 L265.73,335.26 L267.95,335.72 L270.18,336.17 L272.40,336.60 L274.63,337.03 L276.85,337.44 L279.08,337.85 L281.30,338.24 L283.53,338.63 L285.75,339.00 L287.98,339.37 L290.20,339.72 L292.43,340.07 L294.65,340.41 L296.88,340.74 L299.10,341.06 L301.33,341.37 L303.55,341.68 L305.78,341.97 L308.00,342.26 L310.23,342.55 L312.45,342.82 L314.68,343.09 L316.90,343.35 L319.13,343.61 L321.35,343.86 L323.58,344.10 L325.80,344.34 L328.03,344.57 L330.25,344.79 L332.48,345.01 L334.70,345.23 L336.93,345.44 L339.15,345.64 L341.38,345.84 L343.60,346.03 L345.83,346.22 L348.05,346.40 L350.28,346.58 L352.50,346.76 L354.73,346.93 L356.95,347.09 L359.18,347.26 L361.40,347.41 L363.63,347.57 L365.85,347.72 L368.08,347.87 L370.30,348.01 L372.53,348.15 L374.75,348.28" fill="none" stroke="#55d8dc" stroke-width="1.65" stroke-linejoin="round"/><path d="M88.38,229.99 L88.50,230.39 L88.62,230.78 L88.75,231.17 L88.87,231.56 L88.99,231.95 L89.12,232.34 L89.24,232.72 L89.36,233.11 L89.49,233.49 L89.61,233.87 L89.73,234.26 L89.86,234.64 L89.98,235.01 L90.10,235.39 L90.23,235.77 L90.35,236.14 L90.47,236.52 L90.60,236.89 L90.72,237.26 L90.84,237.63 L91.09,238.37 L91.56,239.76 L92.03,241.13 L92.50,242.48 L92.96,243.82 L93.43,245.14 L93.90,246.44 L94.37,247.73 L94.84,249.01 L95.31,250.26 L95.77,251.51 L96.24,252.74 L96.71,253.95 L97.18,255.15 L97.65,256.33 L98.12,257.50 L98.59,258.66 L99.05,259.80 L99.52,260.93 L99.99,262.05 L100.46,263.15 L100.93,264.24 L101.40,265.31 L101.86,266.38 L102.33,267.43 L102.80,268.46 L103.27,269.49 L103.74,270.50 L104.21,271.50 L104.68,272.49 L105.14,273.47 L105.61,274.43 L106.08,275.38 L106.55,276.33 L107.02,277.26 L107.49,278.18 L107.95,279.08 L108.42,279.98 L108.89,280.87 L109.36,281.74 L109.98,282.88 L112.20,286.84 L114.43,290.57 L116.65,294.09 L118.88,297.42 L121.10,300.57 L123.33,303.53 L125.55,306.34 L127.78,308.98 L130.00,311.48 L132.23,313.84 L134.45,316.07 L136.68,318.17 L138.90,320.16 L141.13,322.03 L143.35,323.80 L145.58,325.47 L147.80,327.05 L150.03,328.54 L152.25,329.95 L154.48,331.27 L156.70,332.53 L158.93,333.71 L161.15,334.83 L163.38,335.89 L165.60,336.88 L167.83,337.82 L170.05,338.71 L172.28,339.55 L174.50,340.34 L176.73,341.09 L178.95,341.80 L181.18,342.47 L183.40,343.10 L185.63,343.69 L187.85,344.25 L190.08,344.78 L192.30,345.28 L194.53,345.75 L196.75,346.20 L198.98,346.62 L201.20,347.02 L203.43,347.40 L205.65,347.75 L207.88,348.08 L210.10,348.40 L212.33,348.70 L214.55,348.98 L216.78,349.25 L219.00,349.50 L221.23,349.74 L223.45,349.96 L225.68,350.17 L227.90,350.37 L230.13,350.56 L232.35,350.74 L234.58,350.91 L236.80,351.06 L239.03,351.21 L241.25,351.36 L243.48,351.49 L245.70,351.62 L247.93,351.73 L250.15,351.85 L252.38,351.95 L254.60,352.05 L256.83,352.15 L259.05,352.24 L261.28,352.32 L263.50,352.40 L265.73,352.48 L267.95,352.55 L270.18,352.62 L272.40,352.68 L274.63,352.74 L276.85,352.79 L279.08,352.85 L281.30,352.90 L283.53,352.95 L285.75,352.99 L287.98,353.03 L290.20,353.07 L292.43,353.11 L294.65,353.15 L296.88,353.18 L299.10,353.21 L301.33,353.24 L303.55,353.27 L305.78,353.30 L308.00,353.32 L310.23,353.35 L312.45,353.37 L314.68,353.39 L316.90,353.41 L319.13,353.43 L321.35,353.45 L323.58,353.46 L325.80,353.48 L328.03,353.49 L330.25,353.51 L332.48,353.52 L334.70,353.54 L336.93,353.55 L339.15,353.56 L341.38,353.57 L343.60,353.58 L345.83,353.59 L348.05,353.60 L350.28,353.61 L352.50,353.61 L354.73,353.62 L356.95,353.63 L359.18,353.64 L361.40,353.64 L363.63,353.65 L365.85,353.65 L368.08,353.66 L370.30,353.66 L372.53,353.67 L374.75,353.67" fill="none" stroke="#55d8dc" stroke-width="1.65" stroke-linejoin="round"/></g>
<line x1="548.3" y1="47" x2="861" y2="47" stroke="#5a5a5a" stroke-width="1.6"/>
<line x1="861" y1="47" x2="861" y2="360" stroke="#5a5a5a" stroke-width="1.8"/>
<line x1="544.5" y1="353.75" x2="548.3" y2="353.75" stroke="#000" stroke-width="2"/>
<line x1="546.3" y1="334.53" x2="548.3" y2="334.53" stroke="#999" stroke-width="1"/>
<line x1="546.3" y1="315.31" x2="548.3" y2="315.31" stroke="#999" stroke-width="1"/>
<line x1="546.3" y1="296.09" x2="548.3" y2="296.09" stroke="#999" stroke-width="1"/>
<line x1="544.5" y1="276.88" x2="548.3" y2="276.88" stroke="#000" stroke-width="2"/>
<line x1="546.3" y1="257.66" x2="548.3" y2="257.66" stroke="#999" stroke-width="1"/>
<line x1="546.3" y1="238.44" x2="548.3" y2="238.44" stroke="#999" stroke-width="1"/>
<line x1="546.3" y1="219.22" x2="548.3" y2="219.22" stroke="#999" stroke-width="1"/>
<line x1="544.5" y1="200.00" x2="548.3" y2="200.00" stroke="#000" stroke-width="2"/>
<line x1="546.3" y1="180.78" x2="548.3" y2="180.78" stroke="#999" stroke-width="1"/>
<line x1="546.3" y1="161.56" x2="548.3" y2="161.56" stroke="#999" stroke-width="1"/>
<line x1="546.3" y1="142.34" x2="548.3" y2="142.34" stroke="#999" stroke-width="1"/>
<line x1="544.5" y1="123.12" x2="548.3" y2="123.12" stroke="#000" stroke-width="2"/>
<line x1="546.3" y1="103.91" x2="548.3" y2="103.91" stroke="#999" stroke-width="1"/>
<line x1="546.3" y1="84.69" x2="548.3" y2="84.69" stroke="#999" stroke-width="1"/>
<line x1="546.3" y1="65.47" x2="548.3" y2="65.47" stroke="#999" stroke-width="1"/>
<line x1="544.5" y1="46.25" x2="548.3" y2="46.25" stroke="#000" stroke-width="2"/>
<line x1="556.25" y1="360" x2="556.25" y2="364.8" stroke="#000" stroke-width="2"/>
<line x1="581.00" y1="360" x2="581.00" y2="362.8" stroke="#666" stroke-width="1.1"/>
<line x1="605.76" y1="360" x2="605.76" y2="362.8" stroke="#666" stroke-width="1.1"/>
<line x1="630.51" y1="360" x2="630.51" y2="362.8" stroke="#666" stroke-width="1.1"/>
<line x1="655.27" y1="360" x2="655.27" y2="364.8" stroke="#000" stroke-width="2"/>
<line x1="680.02" y1="360" x2="680.02" y2="362.8" stroke="#666" stroke-width="1.1"/>
<line x1="704.77" y1="360" x2="704.77" y2="362.8" stroke="#666" stroke-width="1.1"/>
<line x1="729.53" y1="360" x2="729.53" y2="362.8" stroke="#666" stroke-width="1.1"/>
<line x1="754.28" y1="360" x2="754.28" y2="364.8" stroke="#000" stroke-width="2"/>
<line x1="779.04" y1="360" x2="779.04" y2="362.8" stroke="#666" stroke-width="1.1"/>
<line x1="803.79" y1="360" x2="803.79" y2="362.8" stroke="#666" stroke-width="1.1"/>
<line x1="828.55" y1="360" x2="828.55" y2="362.8" stroke="#666" stroke-width="1.1"/>
<line x1="853.30" y1="360" x2="853.30" y2="364.8" stroke="#000" stroke-width="2"/>
<line x1="548.3" y1="46.5" x2="548.3" y2="361" stroke="#151515" stroke-width="2.1"/>
<line x1="547.3" y1="360" x2="861.9" y2="360" stroke="#000" stroke-width="2"/>
<text transform="translate(543.1,363.55) scale(1,1.05)" text-anchor="end" font-size="28" font-weight="bold">0</text>
<text transform="translate(543.1,286.68) scale(1,1.05)" text-anchor="end" font-size="28" font-weight="bold">20</text>
<text transform="translate(543.1,209.80) scale(1,1.05)" text-anchor="end" font-size="28" font-weight="bold">40</text>
<text transform="translate(543.1,132.93) scale(1,1.05)" text-anchor="end" font-size="28" font-weight="bold">60</text>
<text transform="translate(543.1,56.05) scale(1,1.05)" text-anchor="end" font-size="28" font-weight="bold">80</text>
<text transform="translate(555.55,390.9) scale(1,1.05)" text-anchor="middle" font-size="28" font-weight="bold">0</text>
<text transform="translate(654.57,390.9) scale(1,1.05)" text-anchor="middle" font-size="28" font-weight="bold">8</text>
<text transform="translate(753.58,390.9) scale(1,1.05)" text-anchor="middle" font-size="28" font-weight="bold">16</text>
<text transform="translate(852.60,390.9) scale(1,1.05)" text-anchor="middle" font-size="28" font-weight="bold">24</text>
<text transform="translate(704.65,420.0) scale(1,0.95)" text-anchor="middle" font-size="23.6" font-weight="bold">Time (h)</text>
<text transform="translate(499.0,203.3) rotate(-90)" x="0" y="0" text-anchor="middle" font-size="23.7" font-weight="bold">Cp-Venous Return-Parent</text>
<text transform="translate(472.40000000000003,34.1) scale(0.955,0.99)" font-size="44" font-weight="bold">B</text>
<text transform="translate(597.6,33.4)" font-size="28.3" font-weight="bold" fill="#0505ea">10yr 4mg/kg</text>
<path d="M565.53,219.63 L565.66,220.21 L565.78,220.76 L565.90,221.28 L566.03,221.79 L566.15,222.28 L566.28,222.75 L566.40,223.20 L566.52,223.65 L566.65,224.08 L566.77,224.50 L566.89,224.91 L567.02,225.32 L567.14,225.71 L567.27,226.10 L567.39,226.49 L567.51,226.87 L567.64,227.24 L567.76,227.61 L567.88,227.97 L568.01,228.33 L568.13,228.69 L568.26,229.05 L568.38,229.40 L568.50,229.75 L568.63,230.09 L568.87,230.77 L569.34,232.04 L569.81,233.28 L570.28,234.50 L570.75,235.68 L571.22,236.85 L571.69,237.99 L572.16,239.12 L572.63,240.22 L573.10,241.31 L573.57,242.37 L574.04,243.42 L574.51,244.45 L574.98,245.47 L575.45,246.46 L575.92,247.45 L576.39,248.42 L576.86,249.37 L577.33,250.31 L577.80,251.23 L578.27,252.15 L578.74,253.05 L579.21,253.93 L579.68,254.81 L580.15,255.67 L580.62,256.52 L581.09,257.36 L581.56,258.19 L582.03,259.01 L582.50,259.81 L582.97,260.61 L583.44,261.40 L583.90,262.18 L584.37,262.95 L584.84,263.71 L585.31,264.46 L585.78,265.20 L586.25,265.94 L586.72,266.66 L587.19,267.38 L587.81,268.31 L590.04,271.57 L592.27,274.67 L594.50,277.62 L596.74,280.44 L598.97,283.14 L601.20,285.73 L603.43,288.21 L605.66,290.59 L607.89,292.88 L610.12,295.08 L612.35,297.20 L614.58,299.23 L616.81,301.19 L619.05,303.08 L621.28,304.89 L623.51,306.64 L625.74,308.33 L627.97,309.95 L630.20,311.52 L632.43,313.03 L634.66,314.48 L636.89,315.89 L639.12,317.24 L641.36,318.54 L643.59,319.80 L645.82,321.01 L648.05,322.18 L650.28,323.31 L652.51,324.39 L654.74,325.44 L656.97,326.45 L659.20,327.42 L661.43,328.36 L663.67,329.27 L665.90,330.14 L668.13,330.98 L670.36,331.80 L672.59,332.58 L674.82,333.33 L677.05,334.06 L679.28,334.76 L681.51,335.44 L683.74,336.09 L685.98,336.72 L688.21,337.33 L690.44,337.92 L692.67,338.48 L694.90,339.03 L697.13,339.55 L699.36,340.06 L701.59,340.55 L703.82,341.02 L706.05,341.47 L708.29,341.91 L710.52,342.33 L712.75,342.74 L714.98,343.13 L717.21,343.51 L719.44,343.88 L721.67,344.23 L723.90,344.57 L726.13,344.89 L728.36,345.21 L730.60,345.52 L732.83,345.81 L735.06,346.09 L737.29,346.37 L739.52,346.63 L741.75,346.88 L743.98,347.13 L746.21,347.36 L748.44,347.59 L750.67,347.81 L752.91,348.02 L755.14,348.23 L757.37,348.42 L759.60,348.61 L761.83,348.80 L764.06,348.97 L766.29,349.14 L768.52,349.31 L770.75,349.47 L772.98,349.62 L775.22,349.77 L777.45,349.91 L779.68,350.05 L781.91,350.18 L784.14,350.31 L786.37,350.43 L788.60,350.55 L790.83,350.66 L793.06,350.77 L795.29,350.88 L797.53,350.98 L799.76,351.08 L801.99,351.17 L804.22,351.27 L806.45,351.35 L808.68,351.44 L810.91,351.52 L813.14,351.60 L815.37,351.68 L817.60,351.75 L819.84,351.82 L822.07,351.89 L824.30,351.96 L826.53,352.02 L828.76,352.08 L830.99,352.14 L833.22,352.20 L835.45,352.26 L837.68,352.31 L839.91,352.36 L842.15,352.41 L844.38,352.46 L846.61,352.50 L848.84,352.55 L851.07,352.59 L853.30,352.63" fill="none" stroke="#9cef66" stroke-width="5.8" stroke-linejoin="round"/>
<path d="M556.25,353.75 L556.41,343.62 L556.57,333.93 L556.73,324.67 L556.88,315.82 L557.04,307.35 L557.20,299.26 L557.36,291.52 L557.52,284.12 L557.68,277.04 L557.84,270.28 L558.00,263.81 L558.15,257.63 L558.31,251.71 L558.47,246.06 L558.63,240.66 L558.79,235.49 L558.95,230.55 L559.11,225.82 L559.26,221.31 L559.42,216.99 L559.58,212.86 L559.74,208.91 L559.90,205.13 L560.06,201.52 L560.22,198.07 L560.38,194.77 L560.53,191.62 L560.69,188.60 L560.85,185.72 L561.01,182.96 L561.17,180.33 L561.33,177.81 L561.49,175.40 L561.65,173.09 L561.80,170.89 L561.96,168.78 L562.12,166.77 L562.28,164.84 L562.44,163.00 L562.44,163.00 L562.56,169.64 L562.69,175.48 L562.81,180.61 L562.93,185.13 L563.06,189.12 L563.18,192.64 L563.30,195.76 L563.43,198.53 L563.55,200.99 L563.68,203.18 L563.80,205.14 L563.92,206.90 L564.05,208.48 L564.17,209.91 L564.30,211.20 L564.42,212.38 L564.54,213.46 L564.67,214.44 L564.79,215.35 L564.91,216.19 L565.04,216.97 L565.16,217.70 L565.29,218.38 L565.41,219.02 L565.53,219.63 L565.66,220.21 L565.78,220.76 L565.90,221.28 L566.03,221.79 L566.15,222.28 L566.28,222.75 L566.40,223.20 L566.52,223.65 L566.65,224.08 L566.77,224.50 L566.89,224.91 L567.02,225.32 L567.14,225.71 L567.27,226.10 L567.39,226.49 L567.51,226.87 L567.64,227.24 L567.76,227.61 L567.88,227.97 L568.01,228.33 L568.13,228.69 L568.26,229.05 L568.38,229.40 L568.50,229.75 L568.63,230.09 L568.87,230.77 L569.34,232.04 L569.81,233.28 L570.28,234.50 L570.75,235.68 L571.22,236.85 L571.69,237.99 L572.16,239.12 L572.63,240.22 L573.10,241.31 L573.57,242.37 L574.04,243.42 L574.51,244.45 L574.98,245.47 L575.45,246.46 L575.92,247.45 L576.39,248.42 L576.86,249.37 L577.33,250.31 L577.80,251.23 L578.27,252.15 L578.74,253.05 L579.21,253.93 L579.68,254.81 L580.15,255.67 L580.62,256.52 L581.09,257.36 L581.56,258.19 L582.03,259.01 L582.50,259.81 L582.97,260.61 L583.44,261.40 L583.90,262.18 L584.37,262.95 L584.84,263.71 L585.31,264.46 L585.78,265.20 L586.25,265.94 L586.72,266.66 L587.19,267.38 L587.81,268.31 L590.04,271.57 L592.27,274.67 L594.50,277.62 L596.74,280.44 L598.97,283.14 L601.20,285.73 L603.43,288.21 L605.66,290.59 L607.89,292.88 L610.12,295.08 L612.35,297.20 L614.58,299.23 L616.81,301.19 L619.05,303.08 L621.28,304.89 L623.51,306.64 L625.74,308.33 L627.97,309.95 L630.20,311.52 L632.43,313.03 L634.66,314.48 L636.89,315.89 L639.12,317.24 L641.36,318.54 L643.59,319.80 L645.82,321.01 L648.05,322.18 L650.28,323.31 L652.51,324.39 L654.74,325.44 L656.97,326.45 L659.20,327.42 L661.43,328.36 L663.67,329.27 L665.90,330.14 L668.13,330.98 L670.36,331.80 L672.59,332.58 L674.82,333.33 L677.05,334.06 L679.28,334.76 L681.51,335.44 L683.74,336.09 L685.98,336.72 L688.21,337.33 L690.44,337.92 L692.67,338.48 L694.90,339.03 L697.13,339.55 L699.36,340.06 L701.59,340.55 L703.82,341.02 L706.05,341.47 L708.29,341.91 L710.52,342.33 L712.75,342.74 L714.98,343.13 L717.21,343.51 L719.44,343.88 L721.67,344.23 L723.90,344.57 L726.13,344.89 L728.36,345.21 L730.60,345.52 L732.83,345.81 L735.06,346.09 L737.29,346.37 L739.52,346.63 L741.75,346.88 L743.98,347.13 L746.21,347.36 L748.44,347.59 L750.67,347.81 L752.91,348.02 L755.14,348.23 L757.37,348.42 L759.60,348.61 L761.83,348.80 L764.06,348.97 L766.29,349.14 L768.52,349.31 L770.75,349.47 L772.98,349.62 L775.22,349.77 L777.45,349.91 L779.68,350.05 L781.91,350.18 L784.14,350.31 L786.37,350.43 L788.60,350.55 L790.83,350.66 L793.06,350.77 L795.29,350.88 L797.53,350.98 L799.76,351.08 L801.99,351.17 L804.22,351.27 L806.45,351.35 L808.68,351.44 L810.91,351.52 L813.14,351.60 L815.37,351.68 L817.60,351.75 L819.84,351.82 L822.07,351.89 L824.30,351.96 L826.53,352.02 L828.76,352.08 L830.99,352.14 L833.22,352.20 L835.45,352.26 L837.68,352.31 L839.91,352.36 L842.15,352.41 L844.38,352.46 L846.61,352.50 L848.84,352.55 L851.07,352.59 L853.30,352.63" fill="none" stroke="#243e16" stroke-width="1.6" stroke-linejoin="round"/>
<path d="M565.53,219.63 L565.66,220.21 L565.78,220.76 L565.90,221.28 L566.03,221.79 L566.15,222.28 L566.28,222.75 L566.40,223.20 L566.52,223.65 L566.65,224.08 L566.77,224.50 L566.89,224.91 L567.02,225.32 L567.14,225.71 L567.27,226.10 L567.39,226.49 L567.51,226.87 L567.64,227.24 L567.76,227.61 L567.88,227.97 L568.01,228.33 L568.13,228.69 L568.26,229.05 L568.38,229.40 L568.50,229.75 L568.63,230.09 L568.87,230.77 L569.34,232.04 L569.81,233.28 L570.28,234.50 L570.75,235.68 L571.22,236.85 L571.69,237.99 L572.16,239.12 L572.63,240.22 L573.10,241.31 L573.57,242.37 L574.04,243.42 L574.51,244.45 L574.98,245.47 L575.45,246.46 L575.92,247.45 L576.39,248.42 L576.86,249.37 L577.33,250.31 L577.80,251.23 L578.27,252.15 L578.74,253.05 L579.21,253.93 L579.68,254.81 L580.15,255.67 L580.62,256.52 L581.09,257.36 L581.56,258.19 L582.03,259.01 L582.50,259.81 L582.97,260.61 L583.44,261.40 L583.90,262.18 L584.37,262.95 L584.84,263.71 L585.31,264.46 L585.78,265.20 L586.25,265.94 L586.72,266.66 L587.19,267.38 L587.81,268.31 L590.04,271.57 L592.27,274.67 L594.50,277.62 L596.74,280.44 L598.97,283.14 L601.20,285.73 L603.43,288.21 L605.66,290.59 L607.89,292.88 L610.12,295.08 L612.35,297.20 L614.58,299.23 L616.81,301.19 L619.05,303.08 L621.28,304.89 L623.51,306.64 L625.74,308.33 L627.97,309.95 L630.20,311.52 L632.43,313.03 L634.66,314.48 L636.89,315.89 L639.12,317.24 L641.36,318.54 L643.59,319.80 L645.82,321.01 L648.05,322.18 L650.28,323.31 L652.51,324.39 L654.74,325.44 L656.97,326.45 L659.20,327.42 L661.43,328.36 L663.67,329.27 L665.90,330.14 L668.13,330.98 L670.36,331.80 L672.59,332.58 L674.82,333.33 L677.05,334.06 L679.28,334.76 L681.51,335.44 L683.74,336.09 L685.98,336.72 L688.21,337.33 L690.44,337.92 L692.67,338.48 L694.90,339.03 L697.13,339.55 L699.36,340.06 L701.59,340.55 L703.82,341.02 L706.05,341.47 L708.29,341.91 L710.52,342.33 L712.75,342.74 L714.98,343.13 L717.21,343.51 L719.44,343.88 L721.67,344.23 L723.90,344.57 L726.13,344.89 L728.36,345.21 L730.60,345.52 L732.83,345.81 L735.06,346.09 L737.29,346.37 L739.52,346.63 L741.75,346.88 L743.98,347.13 L746.21,347.36 L748.44,347.59 L750.67,347.81 L752.91,348.02 L755.14,348.23 L757.37,348.42 L759.60,348.61 L761.83,348.80 L764.06,348.97 L766.29,349.14 L768.52,349.31 L770.75,349.47 L772.98,349.62 L775.22,349.77 L777.45,349.91 L779.68,350.05 L781.91,350.18 L784.14,350.31 L786.37,350.43 L788.60,350.55 L790.83,350.66 L793.06,350.77 L795.29,350.88 L797.53,350.98 L799.76,351.08 L801.99,351.17 L804.22,351.27 L806.45,351.35 L808.68,351.44 L810.91,351.52 L813.14,351.60 L815.37,351.68 L817.60,351.75 L819.84,351.82 L822.07,351.89 L824.30,351.96 L826.53,352.02 L828.76,352.08 L830.99,352.14 L833.22,352.20 L835.45,352.26 L837.68,352.31 L839.91,352.36 L842.15,352.41 L844.38,352.46 L846.61,352.50 L848.84,352.55 L851.07,352.59 L853.30,352.63" fill="none" stroke="#243e16" stroke-width="2.3" stroke-linejoin="round"/>
<path d="M556.25,353.75 L556.41,338.04 L556.57,323.03 L556.73,308.67 L556.88,294.94 L557.04,281.81 L557.20,269.26 L557.36,257.26 L557.52,245.79 L557.68,234.82 L557.84,224.33 L558.00,214.30 L558.15,204.71 L558.31,195.55 L558.47,186.78 L558.63,178.40 L558.79,170.39 L558.95,162.73 L559.11,155.40 L559.26,148.40 L559.42,141.70 L559.58,135.30 L559.74,129.18 L559.90,123.33 L560.06,117.73 L560.22,112.38 L560.38,107.26 L560.53,102.37 L560.69,97.70 L560.85,93.23 L561.01,88.95 L561.17,84.86 L561.33,80.95 L561.49,77.22 L561.65,73.65 L561.80,70.23 L561.96,66.96 L562.12,63.84 L562.28,60.85 L562.44,58.00 L562.44,58.00 L562.56,92.12 L562.69,116.72 L562.81,134.56 L562.93,147.59 L563.06,157.19 L563.18,164.35 L563.30,169.76 L563.43,173.93 L563.55,177.20 L563.68,179.83 L563.80,182.00 L563.92,183.84 L564.05,185.43 L564.17,186.83 L564.30,188.10 L564.42,189.27 L564.54,190.37 L564.67,191.40 L564.79,192.38 L564.91,193.32 L565.04,194.22 L565.16,195.09 L565.29,195.94 L565.41,196.77 L565.53,197.57 L565.66,198.36 L565.78,199.12 L565.90,199.87 L566.03,200.60 L566.15,201.31 L566.28,202.01 L566.40,202.70 L566.52,203.36 L566.65,204.02 L566.77,204.66 L566.89,205.29 L567.02,205.91 L567.14,206.51 L567.27,207.10 L567.39,207.68 L567.51,208.25 L567.64,208.81 L567.76,209.35 L567.88,209.89 L568.01,210.42 L568.13,210.93 L568.26,211.44 L568.38,211.94 L568.50,212.43 L568.63,212.91 L568.87,213.84 L569.34,215.53 L569.81,217.12 L570.28,218.61 L570.75,220.02 L571.22,221.35 L571.69,222.62 L572.16,223.83 L572.63,224.98 L573.10,226.08 L573.57,227.14 L574.04,228.15 L574.51,229.14 L574.98,230.08 L575.45,231.00 L575.92,231.89 L576.39,232.76 L576.86,233.60 L577.33,234.43 L577.80,235.23 L578.27,236.02 L578.74,236.80 L579.21,237.55 L579.68,238.30 L580.15,239.03 L580.62,239.75 L581.09,240.46 L581.56,241.17 L582.03,241.86 L582.50,242.54 L582.97,243.22 L583.44,243.89 L583.90,244.55 L584.37,245.20 L584.84,245.85 L585.31,246.49 L585.78,247.13 L586.25,247.76 L586.72,248.39 L587.19,249.01 L587.81,249.82 L590.04,252.67 L592.27,255.44 L594.50,258.12 L596.74,260.72 L598.97,263.25 L601.20,265.70 L603.43,268.09 L605.66,270.42 L607.89,272.68 L610.12,274.88 L612.35,277.02 L614.58,279.10 L616.81,281.13 L619.05,283.10 L621.28,285.01 L623.51,286.88 L625.74,288.69 L627.97,290.46 L630.20,292.17 L632.43,293.84 L634.66,295.47 L636.89,297.05 L639.12,298.59 L641.36,300.09 L643.59,301.54 L645.82,302.96 L648.05,304.34 L650.28,305.68 L652.51,306.98 L654.74,308.25 L656.97,309.48 L659.20,310.68 L661.43,311.85 L663.67,312.99 L665.90,314.10 L668.13,315.17 L670.36,316.22 L672.59,317.24 L674.82,318.23 L677.05,319.19 L679.28,320.13 L681.51,321.04 L683.74,321.93 L685.98,322.79 L688.21,323.63 L690.44,324.45 L692.67,325.24 L694.90,326.02 L697.13,326.77 L699.36,327.50 L701.59,328.21 L703.82,328.91 L706.05,329.58 L708.29,330.23 L710.52,330.87 L712.75,331.49 L714.98,332.10 L717.21,332.68 L719.44,333.26 L721.67,333.81 L723.90,334.35 L726.13,334.88 L728.36,335.39 L730.60,335.89 L732.83,336.37 L735.06,336.85 L737.29,337.30 L739.52,337.75 L741.75,338.18 L743.98,338.61 L746.21,339.02 L748.44,339.42 L750.67,339.81 L752.91,340.18 L755.14,340.55 L757.37,340.91 L759.60,341.26 L761.83,341.60 L764.06,341.93 L766.29,342.25 L768.52,342.56 L770.75,342.86 L772.98,343.16 L775.22,343.45 L777.45,343.73 L779.68,344.00 L781.91,344.26 L784.14,344.52 L786.37,344.77 L788.60,345.01 L790.83,345.25 L793.06,345.48 L795.29,345.71 L797.53,345.92 L799.76,346.14 L801.99,346.34 L804.22,346.54 L806.45,346.74 L808.68,346.93 L810.91,347.11 L813.14,347.29 L815.37,347.47 L817.60,347.64 L819.84,347.81 L822.07,347.97 L824.30,348.12 L826.53,348.28 L828.76,348.42 L830.99,348.57 L833.22,348.71 L835.45,348.85 L837.68,348.98 L839.91,349.11 L842.15,349.23 L844.38,349.36 L846.61,349.48 L848.84,349.59 L851.07,349.71 L853.30,349.82" fill="none" stroke="#55d8dc" stroke-width="1.6" stroke-linejoin="round"/>
<path d="M556.25,353.75 L556.41,345.37 L556.57,337.36 L556.73,329.70 L556.88,322.38 L557.04,315.38 L557.20,308.68 L557.36,302.28 L557.52,296.16 L557.68,290.31 L557.84,284.72 L558.00,279.37 L558.15,274.26 L558.31,269.37 L558.47,264.69 L558.63,260.22 L558.79,255.95 L558.95,251.86 L559.11,247.95 L559.26,244.22 L559.42,240.65 L559.58,237.23 L559.74,233.97 L559.90,230.84 L560.06,227.86 L560.22,225.01 L560.38,222.28 L560.53,219.67 L560.69,217.17 L560.85,214.79 L561.01,212.51 L561.17,210.33 L561.33,208.24 L561.49,206.25 L561.65,204.34 L561.80,202.52 L561.96,200.78 L562.12,199.11 L562.28,197.52 L562.44,196.00 L562.44,196.00 L562.56,198.87 L562.69,201.49 L562.81,203.88 L562.93,206.07 L563.06,208.07 L563.18,209.91 L563.30,211.61 L563.43,213.17 L563.55,214.61 L563.68,215.95 L563.80,217.19 L563.92,218.34 L564.05,219.42 L564.17,220.43 L564.30,221.38 L564.42,222.27 L564.54,223.11 L564.67,223.91 L564.79,224.67 L564.91,225.39 L565.04,226.08 L565.16,226.73 L565.29,227.37 L565.41,227.97 L565.53,228.56 L565.66,229.12 L565.78,229.67 L565.90,230.21 L566.03,230.72 L566.15,231.23 L566.28,231.72 L566.40,232.20 L566.52,232.68 L566.65,233.14 L566.77,233.59 L566.89,234.04 L567.02,234.48 L567.14,234.91 L567.27,235.34 L567.39,235.77 L567.51,236.18 L567.64,236.60 L567.76,237.01 L567.88,237.41 L568.01,237.81 L568.13,238.21 L568.26,238.60 L568.38,238.99 L568.50,239.38 L568.63,239.77 L568.87,240.53 L569.34,241.96 L569.81,243.35 L570.28,244.72 L570.75,246.06 L571.22,247.38 L571.69,248.69 L572.16,249.97 L572.63,251.23 L573.10,252.48 L573.57,253.70 L574.04,254.91 L574.51,256.11 L574.98,257.28 L575.45,258.44 L575.92,259.58 L576.39,260.71 L576.86,261.82 L577.33,262.92 L577.80,264.00 L578.27,265.07 L578.74,266.12 L579.21,267.16 L579.68,268.18 L580.15,269.19 L580.62,270.19 L581.09,271.17 L581.56,272.14 L582.03,273.10 L582.50,274.04 L582.97,274.98 L583.44,275.90 L583.90,276.81 L584.37,277.70 L584.84,278.59 L585.31,279.46 L585.78,280.32 L586.25,281.18 L586.72,282.02 L587.19,282.85 L587.81,283.92 L590.04,287.66 L592.27,291.18 L594.50,294.50 L596.74,297.64 L598.97,300.59 L601.20,303.38 L603.43,306.02 L605.66,308.52 L607.89,310.87 L610.12,313.10 L612.35,315.21 L614.58,317.21 L616.81,319.10 L619.05,320.89 L621.28,322.59 L623.51,324.20 L625.74,325.72 L627.97,327.16 L630.20,328.53 L632.43,329.83 L634.66,331.06 L636.89,332.22 L639.12,333.33 L641.36,334.37 L643.59,335.37 L645.82,336.31 L648.05,337.20 L650.28,338.05 L652.51,338.85 L654.74,339.62 L656.97,340.34 L659.20,341.03 L661.43,341.68 L663.67,342.29 L665.90,342.88 L668.13,343.44 L670.36,343.96 L672.59,344.46 L674.82,344.94 L677.05,345.39 L679.28,345.82 L681.51,346.22 L683.74,346.61 L685.98,346.97 L688.21,347.32 L690.44,347.65 L692.67,347.96 L694.90,348.26 L697.13,348.54 L699.36,348.80 L701.59,349.06 L703.82,349.30 L706.05,349.52 L708.29,349.74 L710.52,349.94 L712.75,350.14 L714.98,350.32 L717.21,350.50 L719.44,350.66 L721.67,350.82 L723.90,350.97 L726.13,351.11 L728.36,351.25 L730.60,351.38 L732.83,351.50 L735.06,351.61 L737.29,351.72 L739.52,351.83 L741.75,351.92 L743.98,352.02 L746.21,352.11 L748.44,352.19 L750.67,352.27 L752.91,352.34 L755.14,352.42 L757.37,352.48 L759.60,352.55 L761.83,352.61 L764.06,352.67 L766.29,352.72 L768.52,352.78 L770.75,352.83 L772.98,352.87 L775.22,352.92 L777.45,352.96 L779.68,353.00 L781.91,353.04 L784.14,353.08 L786.37,353.11 L788.60,353.14 L790.83,353.17 L793.06,353.20 L795.29,353.23 L797.53,353.26 L799.76,353.28 L801.99,353.31 L804.22,353.33 L806.45,353.35 L808.68,353.37 L810.91,353.39 L813.14,353.41 L815.37,353.43 L817.60,353.44 L819.84,353.46 L822.07,353.47 L824.30,353.49 L826.53,353.50 L828.76,353.51 L830.99,353.53 L833.22,353.54 L835.45,353.55 L837.68,353.56 L839.91,353.57 L842.15,353.58 L844.38,353.59 L846.61,353.59 L848.84,353.60 L851.07,353.61 L853.30,353.62" fill="none" stroke="#55d8dc" stroke-width="1.6" stroke-linejoin="round"/>
<path d="M566.15,201.31 L566.28,202.01 L566.40,202.70 L566.52,203.36 L566.65,204.02 L566.77,204.66 L566.89,205.29 L567.02,205.91 L567.14,206.51 L567.27,207.10 L567.39,207.68 L567.51,208.25 L567.64,208.81 L567.76,209.35 L567.88,209.89 L568.01,210.42 L568.13,210.93 L568.26,211.44 L568.38,211.94 L568.50,212.43 L568.63,212.91 L568.87,213.84 L569.34,215.53 L569.81,217.12 L570.28,218.61 L570.75,220.02 L571.22,221.35 L571.69,222.62 L572.16,223.83 L572.63,224.98 L573.10,226.08 L573.57,227.14 L574.04,228.15 L574.51,229.14 L574.98,230.08 L575.45,231.00 L575.92,231.89 L576.39,232.76 L576.86,233.60 L577.33,234.43 L577.80,235.23 L578.27,236.02 L578.74,236.80 L579.21,237.55 L579.68,238.30 L580.15,239.03 L580.62,239.75 L581.09,240.46 L581.56,241.17 L582.03,241.86 L582.50,242.54 L582.97,243.22 L583.44,243.89 L583.90,244.55 L584.37,245.20 L584.84,245.85 L585.31,246.49 L585.78,247.13 L586.25,247.76 L586.72,248.39 L587.19,249.01 L587.81,249.82 L590.04,252.67 L592.27,255.44 L594.50,258.12 L596.74,260.72 L598.97,263.25 L601.20,265.70 L603.43,268.09 L605.66,270.42 L607.89,272.68 L610.12,274.88 L612.35,277.02 L614.58,279.10 L616.81,281.13 L619.05,283.10 L621.28,285.01 L623.51,286.88 L625.74,288.69 L627.97,290.46 L630.20,292.17 L632.43,293.84 L634.66,295.47 L636.89,297.05 L639.12,298.59 L641.36,300.09 L643.59,301.54 L645.82,302.96 L648.05,304.34 L650.28,305.68 L652.51,306.98 L654.74,308.25 L656.97,309.48 L659.20,310.68 L661.43,311.85 L663.67,312.99 L665.90,314.10 L668.13,315.17 L670.36,316.22 L672.59,317.24 L674.82,318.23 L677.05,319.19 L679.28,320.13 L681.51,321.04 L683.74,321.93 L685.98,322.79 L688.21,323.63 L690.44,324.45 L692.67,325.24 L694.90,326.02 L697.13,326.77 L699.36,327.50 L701.59,328.21 L703.82,328.91 L706.05,329.58 L708.29,330.23 L710.52,330.87 L712.75,331.49 L714.98,332.10 L717.21,332.68 L719.44,333.26 L721.67,333.81 L723.90,334.35 L726.13,334.88 L728.36,335.39 L730.60,335.89 L732.83,336.37 L735.06,336.85 L737.29,337.30 L739.52,337.75 L741.75,338.18 L743.98,338.61 L746.21,339.02 L748.44,339.42 L750.67,339.81 L752.91,340.18 L755.14,340.55 L757.37,340.91 L759.60,341.26 L761.83,341.60 L764.06,341.93 L766.29,342.25 L768.52,342.56 L770.75,342.86 L772.98,343.16 L775.22,343.45 L777.45,343.73 L779.68,344.00 L781.91,344.26 L784.14,344.52 L786.37,344.77 L788.60,345.01 L790.83,345.25 L793.06,345.48 L795.29,345.71 L797.53,345.92 L799.76,346.14 L801.99,346.34 L804.22,346.54 L806.45,346.74 L808.68,346.93 L810.91,347.11 L813.14,347.29 L815.37,347.47 L817.60,347.64 L819.84,347.81 L822.07,347.97 L824.30,348.12 L826.53,348.28 L828.76,348.42 L830.99,348.57 L833.22,348.71 L835.45,348.85 L837.68,348.98 L839.91,349.11 L842.15,349.23 L844.38,349.36 L846.61,349.48 L848.84,349.59 L851.07,349.71 L853.30,349.82" fill="none" stroke="#55d8dc" stroke-width="1.65" stroke-linejoin="round"/>
<path d="M566.15,231.23 L566.28,231.72 L566.40,232.20 L566.52,232.68 L566.65,233.14 L566.77,233.59 L566.89,234.04 L567.02,234.48 L567.14,234.91 L567.27,235.34 L567.39,235.77 L567.51,236.18 L567.64,236.60 L567.76,237.01 L567.88,237.41 L568.01,237.81 L568.13,238.21 L568.26,238.60 L568.38,238.99 L568.50,239.38 L568.63,239.77 L568.87,240.53 L569.34,241.96 L569.81,243.35 L570.28,244.72 L570.75,246.06 L571.22,247.38 L571.69,248.69 L572.16,249.97 L572.63,251.23 L573.10,252.48 L573.57,253.70 L574.04,254.91 L574.51,256.11 L574.98,257.28 L575.45,258.44 L575.92,259.58 L576.39,260.71 L576.86,261.82 L577.33,262.92 L577.80,264.00 L578.27,265.07 L578.74,266.12 L579.21,267.16 L579.68,268.18 L580.15,269.19 L580.62,270.19 L581.09,271.17 L581.56,272.14 L582.03,273.10 L582.50,274.04 L582.97,274.98 L583.44,275.90 L583.90,276.81 L584.37,277.70 L584.84,278.59 L585.31,279.46 L585.78,280.32 L586.25,281.18 L586.72,282.02 L587.19,282.85 L587.81,283.92 L590.04,287.66 L592.27,291.18 L594.50,294.50 L596.74,297.64 L598.97,300.59 L601.20,303.38 L603.43,306.02 L605.66,308.52 L607.89,310.87 L610.12,313.10 L612.35,315.21 L614.58,317.21 L616.81,319.10 L619.05,320.89 L621.28,322.59 L623.51,324.20 L625.74,325.72 L627.97,327.16 L630.20,328.53 L632.43,329.83 L634.66,331.06 L636.89,332.22 L639.12,333.33 L641.36,334.37 L643.59,335.37 L645.82,336.31 L648.05,337.20 L650.28,338.05 L652.51,338.85 L654.74,339.62 L656.97,340.34 L659.20,341.03 L661.43,341.68 L663.67,342.29 L665.90,342.88 L668.13,343.44 L670.36,343.96 L672.59,344.46 L674.82,344.94 L677.05,345.39 L679.28,345.82 L681.51,346.22 L683.74,346.61 L685.98,346.97 L688.21,347.32 L690.44,347.65 L692.67,347.96 L694.90,348.26 L697.13,348.54 L699.36,348.80 L701.59,349.06 L703.82,349.30 L706.05,349.52 L708.29,349.74 L710.52,349.94 L712.75,350.14 L714.98,350.32 L717.21,350.50 L719.44,350.66 L721.67,350.82 L723.90,350.97 L726.13,351.11 L728.36,351.25 L730.60,351.38 L732.83,351.50 L735.06,351.61 L737.29,351.72 L739.52,351.83 L741.75,351.92 L743.98,352.02 L746.21,352.11 L748.44,352.19 L750.67,352.27 L752.91,352.34 L755.14,352.42 L757.37,352.48 L759.60,352.55 L761.83,352.61 L764.06,352.67 L766.29,352.72 L768.52,352.78 L770.75,352.83 L772.98,352.87 L775.22,352.92 L777.45,352.96 L779.68,353.00 L781.91,353.04 L784.14,353.08 L786.37,353.11 L788.60,353.14 L790.83,353.17 L793.06,353.20 L795.29,353.23 L797.53,353.26 L799.76,353.28 L801.99,353.31 L804.22,353.33 L806.45,353.35 L808.68,353.37 L810.91,353.39 L813.14,353.41 L815.37,353.43 L817.60,353.44 L819.84,353.46 L822.07,353.47 L824.30,353.49 L826.53,353.50 L828.76,353.51 L830.99,353.53 L833.22,353.54 L835.45,353.55 L837.68,353.56 L839.91,353.57 L842.15,353.58 L844.38,353.59 L846.61,353.59 L848.84,353.60 L851.07,353.61 L853.30,353.62" fill="none" stroke="#55d8dc" stroke-width="1.65" stroke-linejoin="round"/>
<path d="M562.44,163.00 L562.56,169.64 L562.69,175.48 L562.81,180.61 L562.93,185.13 L563.06,189.12 L563.18,192.64 L563.30,195.76 L563.43,198.53 L563.55,200.99 L563.68,203.18 L563.80,205.14 L563.92,206.90 L564.05,208.48 L564.17,209.91 L564.30,211.20 L564.42,212.38 L564.54,213.46 L564.67,214.44 L564.79,215.35 L564.91,216.19" fill="none" stroke="#243e16" stroke-width="1.5" stroke-linejoin="round" opacity="0.9"/>
<clipPath id="mkB"><rect x="557.00" y="178.00" width="12" height="12"/><rect x="560.00" y="193.00" width="12" height="12"/><rect x="564.30" y="213.30" width="12" height="12"/><rect x="570.00" y="233.60" width="12" height="12"/><rect x="582.00" y="255.00" width="12" height="12"/><rect x="606.30" y="282.00" width="12" height="12"/><rect x="632.30" y="297.75" width="12" height="12"/><rect x="681.60" y="315.60" width="12" height="12"/></clipPath>
<rect x="557.00" y="178.00" width="12" height="12" fill="#dc00fa"/>
<rect x="560.00" y="193.00" width="12" height="12" fill="#dc00fa"/>
<rect x="564.30" y="213.30" width="12" height="12" fill="#dc00fa"/>
<rect x="570.00" y="233.60" width="12" height="12" fill="#dc00fa"/>
<rect x="582.00" y="255.00" width="12" height="12" fill="#dc00fa"/>
<rect x="606.30" y="282.00" width="12" height="12" fill="#dc00fa"/>
<rect x="632.30" y="297.75" width="12" height="12" fill="#dc00fa"/>
<rect x="681.60" y="315.60" width="12" height="12" fill="#dc00fa"/>
<g clip-path="url(#mkB)" opacity="0.6"><path d="M556.25,353.75 L556.41,338.04 L556.57,323.03 L556.73,308.67 L556.88,294.94 L557.04,281.81 L557.20,269.26 L557.36,257.26 L557.52,245.79 L557.68,234.82 L557.84,224.33 L558.00,214.30 L558.15,204.71 L558.31,195.55 L558.47,186.78 L558.63,178.40 L558.79,170.39 L558.95,162.73 L559.11,155.40 L559.26,148.40 L559.42,141.70 L559.58,135.30 L559.74,129.18 L559.90,123.33 L560.06,117.73 L560.22,112.38 L560.38,107.26 L560.53,102.37 L560.69,97.70 L560.85,93.23 L561.01,88.95 L561.17,84.86 L561.33,80.95 L561.49,77.22 L561.65,73.65 L561.80,70.23 L561.96,66.96 L562.12,63.84 L562.28,60.85 L562.44,58.00 L562.44,58.00 L562.56,92.12 L562.69,116.72 L562.81,134.56 L562.93,147.59 L563.06,157.19 L563.18,164.35 L563.30,169.76 L563.43,173.93 L563.55,177.20 L563.68,179.83 L563.80,182.00 L563.92,183.84 L564.05,185.43 L564.17,186.83 L564.30,188.10 L564.42,189.27 L564.54,190.37 L564.67,191.40 L564.79,192.38 L564.91,193.32 L565.04,194.22 L565.16,195.09 L565.29,195.94 L565.41,196.77 L565.53,197.57 L565.66,198.36 L565.78,199.12 L565.90,199.87 L566.03,200.60 L566.15,201.31 L566.28,202.01 L566.40,202.70 L566.52,203.36 L566.65,204.02 L566.77,204.66 L566.89,205.29 L567.02,205.91 L567.14,206.51 L567.27,207.10 L567.39,207.68 L567.51,208.25 L567.64,208.81 L567.76,209.35 L567.88,209.89 L568.01,210.42 L568.13,210.93 L568.26,211.44 L568.38,211.94 L568.50,212.43 L568.63,212.91 L568.87,213.84 L569.34,215.53 L569.81,217.12 L570.28,218.61 L570.75,220.02 L571.22,221.35 L571.69,222.62 L572.16,223.83 L572.63,224.98 L573.10,226.08 L573.57,227.14 L574.04,228.15 L574.51,229.14 L574.98,230.08 L575.45,231.00 L575.92,231.89 L576.39,232.76 L576.86,233.60 L577.33,234.43 L577.80,235.23 L578.27,236.02 L578.74,236.80 L579.21,237.55 L579.68,238.30 L580.15,239.03 L580.62,239.75 L581.09,240.46 L581.56,241.17 L582.03,241.86 L582.50,242.54 L582.97,243.22 L583.44,243.89 L583.90,244.55 L584.37,245.20 L584.84,245.85 L585.31,246.49 L585.78,247.13 L586.25,247.76 L586.72,248.39 L587.19,249.01 L587.81,249.82 L590.04,252.67 L592.27,255.44 L594.50,258.12 L596.74,260.72 L598.97,263.25 L601.20,265.70 L603.43,268.09 L605.66,270.42 L607.89,272.68 L610.12,274.88 L612.35,277.02 L614.58,279.10 L616.81,281.13 L619.05,283.10 L621.28,285.01 L623.51,286.88 L625.74,288.69 L627.97,290.46 L630.20,292.17 L632.43,293.84 L634.66,295.47 L636.89,297.05 L639.12,298.59 L641.36,300.09 L643.59,301.54 L645.82,302.96 L648.05,304.34 L650.28,305.68 L652.51,306.98 L654.74,308.25 L656.97,309.48 L659.20,310.68 L661.43,311.85 L663.67,312.99 L665.90,314.10 L668.13,315.17 L670.36,316.22 L672.59,317.24 L674.82,318.23 L677.05,319.19 L679.28,320.13 L681.51,321.04 L683.74,321.93 L685.98,322.79 L688.21,323.63 L690.44,324.45 L692.67,325.24 L694.90,326.02 L697.13,326.77 L699.36,327.50 L701.59,328.21 L703.82,328.91 L706.05,329.58 L708.29,330.23 L710.52,330.87 L712.75,331.49 L714.98,332.10 L717.21,332.68 L719.44,333.26 L721.67,333.81 L723.90,334.35 L726.13,334.88 L728.36,335.39 L730.60,335.89 L732.83,336.37 L735.06,336.85 L737.29,337.30 L739.52,337.75 L741.75,338.18 L743.98,338.61 L746.21,339.02 L748.44,339.42 L750.67,339.81 L752.91,340.18 L755.14,340.55 L757.37,340.91 L759.60,341.26 L761.83,341.60 L764.06,341.93 L766.29,342.25 L768.52,342.56 L770.75,342.86 L772.98,343.16 L775.22,343.45 L777.45,343.73 L779.68,344.00 L781.91,344.26 L784.14,344.52 L786.37,344.77 L788.60,345.01 L790.83,345.25 L793.06,345.48 L795.29,345.71 L797.53,345.92 L799.76,346.14 L801.99,346.34 L804.22,346.54 L806.45,346.74 L808.68,346.93 L810.91,347.11 L813.14,347.29 L815.37,347.47 L817.60,347.64 L819.84,347.81 L822.07,347.97 L824.30,348.12 L826.53,348.28 L828.76,348.42 L830.99,348.57 L833.22,348.71 L835.45,348.85 L837.68,348.98 L839.91,349.11 L842.15,349.23 L844.38,349.36 L846.61,349.48 L848.84,349.59 L851.07,349.71 L853.30,349.82" fill="none" stroke="#55d8dc" stroke-width="1.6" stroke-linejoin="round"/><path d="M556.25,353.75 L556.41,345.37 L556.57,337.36 L556.73,329.70 L556.88,322.38 L557.04,315.38 L557.20,308.68 L557.36,302.28 L557.52,296.16 L557.68,290.31 L557.84,284.72 L558.00,279.37 L558.15,274.26 L558.31,269.37 L558.47,264.69 L558.63,260.22 L558.79,255.95 L558.95,251.86 L559.11,247.95 L559.26,244.22 L559.42,240.65 L559.58,237.23 L559.74,233.97 L559.90,230.84 L560.06,227.86 L560.22,225.01 L560.38,222.28 L560.53,219.67 L560.69,217.17 L560.85,214.79 L561.01,212.51 L561.17,210.33 L561.33,208.24 L561.49,206.25 L561.65,204.34 L561.80,202.52 L561.96,200.78 L562.12,199.11 L562.28,197.52 L562.44,196.00 L562.44,196.00 L562.56,198.87 L562.69,201.49 L562.81,203.88 L562.93,206.07 L563.06,208.07 L563.18,209.91 L563.30,211.61 L563.43,213.17 L563.55,214.61 L563.68,215.95 L563.80,217.19 L563.92,218.34 L564.05,219.42 L564.17,220.43 L564.30,221.38 L564.42,222.27 L564.54,223.11 L564.67,223.91 L564.79,224.67 L564.91,225.39 L565.04,226.08 L565.16,226.73 L565.29,227.37 L565.41,227.97 L565.53,228.56 L565.66,229.12 L565.78,229.67 L565.90,230.21 L566.03,230.72 L566.15,231.23 L566.28,231.72 L566.40,232.20 L566.52,232.68 L566.65,233.14 L566.77,233.59 L566.89,234.04 L567.02,234.48 L567.14,234.91 L567.27,235.34 L567.39,235.77 L567.51,236.18 L567.64,236.60 L567.76,237.01 L567.88,237.41 L568.01,237.81 L568.13,238.21 L568.26,238.60 L568.38,238.99 L568.50,239.38 L568.63,239.77 L568.87,240.53 L569.34,241.96 L569.81,243.35 L570.28,244.72 L570.75,246.06 L571.22,247.38 L571.69,248.69 L572.16,249.97 L572.63,251.23 L573.10,252.48 L573.57,253.70 L574.04,254.91 L574.51,256.11 L574.98,257.28 L575.45,258.44 L575.92,259.58 L576.39,260.71 L576.86,261.82 L577.33,262.92 L577.80,264.00 L578.27,265.07 L578.74,266.12 L579.21,267.16 L579.68,268.18 L580.15,269.19 L580.62,270.19 L581.09,271.17 L581.56,272.14 L582.03,273.10 L582.50,274.04 L582.97,274.98 L583.44,275.90 L583.90,276.81 L584.37,277.70 L584.84,278.59 L585.31,279.46 L585.78,280.32 L586.25,281.18 L586.72,282.02 L587.19,282.85 L587.81,283.92 L590.04,287.66 L592.27,291.18 L594.50,294.50 L596.74,297.64 L598.97,300.59 L601.20,303.38 L603.43,306.02 L605.66,308.52 L607.89,310.87 L610.12,313.10 L612.35,315.21 L614.58,317.21 L616.81,319.10 L619.05,320.89 L621.28,322.59 L623.51,324.20 L625.74,325.72 L627.97,327.16 L630.20,328.53 L632.43,329.83 L634.66,331.06 L636.89,332.22 L639.12,333.33 L641.36,334.37 L643.59,335.37 L645.82,336.31 L648.05,337.20 L650.28,338.05 L652.51,338.85 L654.74,339.62 L656.97,340.34 L659.20,341.03 L661.43,341.68 L663.67,342.29 L665.90,342.88 L668.13,343.44 L670.36,343.96 L672.59,344.46 L674.82,344.94 L677.05,345.39 L679.28,345.82 L681.51,346.22 L683.74,346.61 L685.98,346.97 L688.21,347.32 L690.44,347.65 L692.67,347.96 L694.90,348.26 L697.13,348.54 L699.36,348.80 L701.59,349.06 L703.82,349.30 L706.05,349.52 L708.29,349.74 L710.52,349.94 L712.75,350.14 L714.98,350.32 L717.21,350.50 L719.44,350.66 L721.67,350.82 L723.90,350.97 L726.13,351.11 L728.36,351.25 L730.60,351.38 L732.83,351.50 L735.06,351.61 L737.29,351.72 L739.52,351.83 L741.75,351.92 L743.98,352.02 L746.21,352.11 L748.44,352.19 L750.67,352.27 L752.91,352.34 L755.14,352.42 L757.37,352.48 L759.60,352.55 L761.83,352.61 L764.06,352.67 L766.29,352.72 L768.52,352.78 L770.75,352.83 L772.98,352.87 L775.22,352.92 L777.45,352.96 L779.68,353.00 L781.91,353.04 L784.14,353.08 L786.37,353.11 L788.60,353.14 L790.83,353.17 L793.06,353.20 L795.29,353.23 L797.53,353.26 L799.76,353.28 L801.99,353.31 L804.22,353.33 L806.45,353.35 L808.68,353.37 L810.91,353.39 L813.14,353.41 L815.37,353.43 L817.60,353.44 L819.84,353.46 L822.07,353.47 L824.30,353.49 L826.53,353.50 L828.76,353.51 L830.99,353.53 L833.22,353.54 L835.45,353.55 L837.68,353.56 L839.91,353.57 L842.15,353.58 L844.38,353.59 L846.61,353.59 L848.84,353.60 L851.07,353.61 L853.30,353.62" fill="none" stroke="#55d8dc" stroke-width="1.6" stroke-linejoin="round"/><path d="M566.15,201.31 L566.28,202.01 L566.40,202.70 L566.52,203.36 L566.65,204.02 L566.77,204.66 L566.89,205.29 L567.02,205.91 L567.14,206.51 L567.27,207.10 L567.39,207.68 L567.51,208.25 L567.64,208.81 L567.76,209.35 L567.88,209.89 L568.01,210.42 L568.13,210.93 L568.26,211.44 L568.38,211.94 L568.50,212.43 L568.63,212.91 L568.87,213.84 L569.34,215.53 L569.81,217.12 L570.28,218.61 L570.75,220.02 L571.22,221.35 L571.69,222.62 L572.16,223.83 L572.63,224.98 L573.10,226.08 L573.57,227.14 L574.04,228.15 L574.51,229.14 L574.98,230.08 L575.45,231.00 L575.92,231.89 L576.39,232.76 L576.86,233.60 L577.33,234.43 L577.80,235.23 L578.27,236.02 L578.74,236.80 L579.21,237.55 L579.68,238.30 L580.15,239.03 L580.62,239.75 L581.09,240.46 L581.56,241.17 L582.03,241.86 L582.50,242.54 L582.97,243.22 L583.44,243.89 L583.90,244.55 L584.37,245.20 L584.84,245.85 L585.31,246.49 L585.78,247.13 L586.25,247.76 L586.72,248.39 L587.19,249.01 L587.81,249.82 L590.04,252.67 L592.27,255.44 L594.50,258.12 L596.74,260.72 L598.97,263.25 L601.20,265.70 L603.43,268.09 L605.66,270.42 L607.89,272.68 L610.12,274.88 L612.35,277.02 L614.58,279.10 L616.81,281.13 L619.05,283.10 L621.28,285.01 L623.51,286.88 L625.74,288.69 L627.97,290.46 L630.20,292.17 L632.43,293.84 L634.66,295.47 L636.89,297.05 L639.12,298.59 L641.36,300.09 L643.59,301.54 L645.82,302.96 L648.05,304.34 L650.28,305.68 L652.51,306.98 L654.74,308.25 L656.97,309.48 L659.20,310.68 L661.43,311.85 L663.67,312.99 L665.90,314.10 L668.13,315.17 L670.36,316.22 L672.59,317.24 L674.82,318.23 L677.05,319.19 L679.28,320.13 L681.51,321.04 L683.74,321.93 L685.98,322.79 L688.21,323.63 L690.44,324.45 L692.67,325.24 L694.90,326.02 L697.13,326.77 L699.36,327.50 L701.59,328.21 L703.82,328.91 L706.05,329.58 L708.29,330.23 L710.52,330.87 L712.75,331.49 L714.98,332.10 L717.21,332.68 L719.44,333.26 L721.67,333.81 L723.90,334.35 L726.13,334.88 L728.36,335.39 L730.60,335.89 L732.83,336.37 L735.06,336.85 L737.29,337.30 L739.52,337.75 L741.75,338.18 L743.98,338.61 L746.21,339.02 L748.44,339.42 L750.67,339.81 L752.91,340.18 L755.14,340.55 L757.37,340.91 L759.60,341.26 L761.83,341.60 L764.06,341.93 L766.29,342.25 L768.52,342.56 L770.75,342.86 L772.98,343.16 L775.22,343.45 L777.45,343.73 L779.68,344.00 L781.91,344.26 L784.14,344.52 L786.37,344.77 L788.60,345.01 L790.83,345.25 L793.06,345.48 L795.29,345.71 L797.53,345.92 L799.76,346.14 L801.99,346.34 L804.22,346.54 L806.45,346.74 L808.68,346.93 L810.91,347.11 L813.14,347.29 L815.37,347.47 L817.60,347.64 L819.84,347.81 L822.07,347.97 L824.30,348.12 L826.53,348.28 L828.76,348.42 L830.99,348.57 L833.22,348.71 L835.45,348.85 L837.68,348.98 L839.91,349.11 L842.15,349.23 L844.38,349.36 L846.61,349.48 L848.84,349.59 L851.07,349.71 L853.30,349.82" fill="none" stroke="#55d8dc" stroke-width="1.65" stroke-linejoin="round"/><path d="M566.15,231.23 L566.28,231.72 L566.40,232.20 L566.52,232.68 L566.65,233.14 L566.77,233.59 L566.89,234.04 L567.02,234.48 L567.14,234.91 L567.27,235.34 L567.39,235.77 L567.51,236.18 L567.64,236.60 L567.76,237.01 L567.88,237.41 L568.01,237.81 L568.13,238.21 L568.26,238.60 L568.38,238.99 L568.50,239.38 L568.63,239.77 L568.87,240.53 L569.34,241.96 L569.81,243.35 L570.28,244.72 L570.75,246.06 L571.22,247.38 L571.69,248.69 L572.16,249.97 L572.63,251.23 L573.10,252.48 L573.57,253.70 L574.04,254.91 L574.51,256.11 L574.98,257.28 L575.45,258.44 L575.92,259.58 L576.39,260.71 L576.86,261.82 L577.33,262.92 L577.80,264.00 L578.27,265.07 L578.74,266.12 L579.21,267.16 L579.68,268.18 L580.15,269.19 L580.62,270.19 L581.09,271.17 L581.56,272.14 L582.03,273.10 L582.50,274.04 L582.97,274.98 L583.44,275.90 L583.90,276.81 L584.37,277.70 L584.84,278.59 L585.31,279.46 L585.78,280.32 L586.25,281.18 L586.72,282.02 L587.19,282.85 L587.81,283.92 L590.04,287.66 L592.27,291.18 L594.50,294.50 L596.74,297.64 L598.97,300.59 L601.20,303.38 L603.43,306.02 L605.66,308.52 L607.89,310.87 L610.12,313.10 L612.35,315.21 L614.58,317.21 L616.81,319.10 L619.05,320.89 L621.28,322.59 L623.51,324.20 L625.74,325.72 L627.97,327.16 L630.20,328.53 L632.43,329.83 L634.66,331.06 L636.89,332.22 L639.12,333.33 L641.36,334.37 L643.59,335.37 L645.82,336.31 L648.05,337.20 L650.28,338.05 L652.51,338.85 L654.74,339.62 L656.97,340.34 L659.20,341.03 L661.43,341.68 L663.67,342.29 L665.90,342.88 L668.13,343.44 L670.36,343.96 L672.59,344.46 L674.82,344.94 L677.05,345.39 L679.28,345.82 L681.51,346.22 L683.74,346.61 L685.98,346.97 L688.21,347.32 L690.44,347.65 L692.67,347.96 L694.90,348.26 L697.13,348.54 L699.36,348.80 L701.59,349.06 L703.82,349.30 L706.05,349.52 L708.29,349.74 L710.52,349.94 L712.75,350.14 L714.98,350.32 L717.21,350.50 L719.44,350.66 L721.67,350.82 L723.90,350.97 L726.13,351.11 L728.36,351.25 L730.60,351.38 L732.83,351.50 L735.06,351.61 L737.29,351.72 L739.52,351.83 L741.75,351.92 L743.98,352.02 L746.21,352.11 L748.44,352.19 L750.67,352.27 L752.91,352.34 L755.14,352.42 L757.37,352.48 L759.60,352.55 L761.83,352.61 L764.06,352.67 L766.29,352.72 L768.52,352.78 L770.75,352.83 L772.98,352.87 L775.22,352.92 L777.45,352.96 L779.68,353.00 L781.91,353.04 L784.14,353.08 L786.37,353.11 L788.60,353.14 L790.83,353.17 L793.06,353.20 L795.29,353.23 L797.53,353.26 L799.76,353.28 L801.99,353.31 L804.22,353.33 L806.45,353.35 L808.68,353.37 L810.91,353.39 L813.14,353.41 L815.37,353.43 L817.60,353.44 L819.84,353.46 L822.07,353.47 L824.30,353.49 L826.53,353.50 L828.76,353.51 L830.99,353.53 L833.22,353.54 L835.45,353.55 L837.68,353.56 L839.91,353.57 L842.15,353.58 L844.38,353.59 L846.61,353.59 L848.84,353.60 L851.07,353.61 L853.30,353.62" fill="none" stroke="#55d8dc" stroke-width="1.65" stroke-linejoin="round"/></g>
<line x1="1041.5" y1="47" x2="1339" y2="47" stroke="#5a5a5a" stroke-width="1.6"/>
<line x1="1339" y1="47" x2="1339" y2="360" stroke="#5a5a5a" stroke-width="1.8"/>
<line x1="1037.7" y1="353.75" x2="1041.5" y2="353.75" stroke="#000" stroke-width="2"/>
<line x1="1039.5" y1="328.12" x2="1041.5" y2="328.12" stroke="#999" stroke-width="1"/>
<line x1="1039.5" y1="302.50" x2="1041.5" y2="302.50" stroke="#999" stroke-width="1"/>
<line x1="1039.5" y1="276.88" x2="1041.5" y2="276.88" stroke="#999" stroke-width="1"/>
<line x1="1037.7" y1="251.25" x2="1041.5" y2="251.25" stroke="#000" stroke-width="2"/>
<line x1="1039.5" y1="225.62" x2="1041.5" y2="225.62" stroke="#999" stroke-width="1"/>
<line x1="1039.5" y1="200.00" x2="1041.5" y2="200.00" stroke="#999" stroke-width="1"/>
<line x1="1039.5" y1="174.38" x2="1041.5" y2="174.38" stroke="#999" stroke-width="1"/>
<line x1="1037.7" y1="148.75" x2="1041.5" y2="148.75" stroke="#000" stroke-width="2"/>
<line x1="1039.5" y1="123.13" x2="1041.5" y2="123.13" stroke="#999" stroke-width="1"/>
<line x1="1039.5" y1="97.50" x2="1041.5" y2="97.50" stroke="#999" stroke-width="1"/>
<line x1="1039.5" y1="71.88" x2="1041.5" y2="71.88" stroke="#999" stroke-width="1"/>
<line x1="1037.7" y1="46.25" x2="1041.5" y2="46.25" stroke="#000" stroke-width="2"/>
<line x1="1051.30" y1="360" x2="1051.30" y2="364.8" stroke="#000" stroke-width="2"/>
<line x1="1074.45" y1="360" x2="1074.45" y2="362.8" stroke="#666" stroke-width="1.1"/>
<line x1="1097.60" y1="360" x2="1097.60" y2="362.8" stroke="#666" stroke-width="1.1"/>
<line x1="1120.75" y1="360" x2="1120.75" y2="362.8" stroke="#666" stroke-width="1.1"/>
<line x1="1143.90" y1="360" x2="1143.90" y2="364.8" stroke="#000" stroke-width="2"/>
<line x1="1167.05" y1="360" x2="1167.05" y2="362.8" stroke="#666" stroke-width="1.1"/>
<line x1="1190.20" y1="360" x2="1190.20" y2="362.8" stroke="#666" stroke-width="1.1"/>
<line x1="1213.35" y1="360" x2="1213.35" y2="362.8" stroke="#666" stroke-width="1.1"/>
<line x1="1236.50" y1="360" x2="1236.50" y2="364.8" stroke="#000" stroke-width="2"/>
<line x1="1259.65" y1="360" x2="1259.65" y2="362.8" stroke="#666" stroke-width="1.1"/>
<line x1="1282.80" y1="360" x2="1282.80" y2="362.8" stroke="#666" stroke-width="1.1"/>
<line x1="1305.95" y1="360" x2="1305.95" y2="362.8" stroke="#666" stroke-width="1.1"/>
<line x1="1329.10" y1="360" x2="1329.10" y2="364.8" stroke="#000" stroke-width="2"/>
<line x1="1041.5" y1="46.5" x2="1041.5" y2="361" stroke="#151515" stroke-width="2.1"/>
<line x1="1040.5" y1="360" x2="1339.9" y2="360" stroke="#000" stroke-width="2"/>
<text transform="translate(1036.8,363.55) scale(1,1.05)" text-anchor="end" font-size="28" font-weight="bold">0</text>
<text transform="translate(1036.8,261.05) scale(1,1.05)" text-anchor="end" font-size="28" font-weight="bold">50</text>
<text transform="translate(1036.8,158.55) scale(1,1.05)" text-anchor="end" font-size="28" font-weight="bold">100</text>
<text transform="translate(1036.8,56.05) scale(1,1.05)" text-anchor="end" font-size="28" font-weight="bold">150</text>
<text transform="translate(1050.60,390.9) scale(1,1.05)" text-anchor="middle" font-size="28" font-weight="bold">0</text>
<text transform="translate(1143.20,390.9) scale(1,1.05)" text-anchor="middle" font-size="28" font-weight="bold">8</text>
<text transform="translate(1235.80,390.9) scale(1,1.05)" text-anchor="middle" font-size="28" font-weight="bold">16</text>
<text transform="translate(1328.40,390.9) scale(1,1.05)" text-anchor="middle" font-size="28" font-weight="bold">24</text>
<text transform="translate(1190.25,420.0) scale(1,0.95)" text-anchor="middle" font-size="23.6" font-weight="bold">Time (h)</text>
<text transform="translate(977.0,203.3) rotate(-90)" x="0" y="0" text-anchor="middle" font-size="23.7" font-weight="bold">Cp-Venous Return-Parent</text>
<text transform="translate(950.1,34.1) scale(0.9,0.99)" font-size="44" font-weight="bold">C</text>
<text transform="translate(1075.7,33.4)" font-size="28.3" font-weight="bold" fill="#0505ea">15yr 4mg/kg</text>
<path d="M1059.98,273.70 L1060.10,273.90 L1060.21,274.09 L1060.33,274.27 L1060.44,274.46 L1060.56,274.64 L1060.68,274.82 L1060.79,274.99 L1060.91,275.17 L1061.02,275.34 L1061.14,275.50 L1061.25,275.67 L1061.37,275.83 L1061.49,275.99 L1061.60,276.15 L1061.72,276.31 L1061.83,276.46 L1061.95,276.62 L1062.06,276.77 L1062.18,276.92 L1062.30,277.06 L1062.41,277.21 L1062.53,277.35 L1062.64,277.49 L1062.76,277.63 L1062.87,277.77 L1063.11,278.04 L1063.55,278.54 L1063.99,279.02 L1064.42,279.48 L1064.86,279.92 L1065.30,280.34 L1065.74,280.75 L1066.18,281.15 L1066.62,281.54 L1067.06,281.91 L1067.50,282.27 L1067.94,282.62 L1068.38,282.96 L1068.82,283.30 L1069.26,283.63 L1069.70,283.95 L1070.13,284.26 L1070.57,284.57 L1071.01,284.87 L1071.45,285.16 L1071.89,285.45 L1072.33,285.74 L1072.77,286.02 L1073.21,286.30 L1073.65,286.58 L1074.09,286.85 L1074.53,287.12 L1074.97,287.38 L1075.41,287.64 L1075.84,287.90 L1076.28,288.16 L1076.72,288.42 L1077.16,288.67 L1077.60,288.92 L1078.04,289.17 L1078.48,289.41 L1078.92,289.66 L1079.36,289.90 L1079.80,290.14 L1080.24,290.38 L1080.82,290.70 L1082.90,291.81 L1084.99,292.89 L1087.08,293.95 L1089.16,294.99 L1091.25,296.01 L1093.33,297.00 L1095.42,297.98 L1097.51,298.95 L1099.59,299.89 L1101.68,300.82 L1103.77,301.73 L1105.85,302.63 L1107.94,303.51 L1110.03,304.38 L1112.11,305.23 L1114.20,306.06 L1116.29,306.88 L1118.37,307.69 L1120.46,308.49 L1122.54,309.27 L1124.63,310.03 L1126.72,310.79 L1128.80,311.53 L1130.89,312.25 L1132.98,312.97 L1135.06,313.67 L1137.15,314.36 L1139.24,315.04 L1141.32,315.71 L1143.41,316.36 L1145.50,317.01 L1147.58,317.64 L1149.67,318.26 L1151.75,318.88 L1153.84,319.48 L1155.93,320.07 L1158.01,320.65 L1160.10,321.22 L1162.19,321.78 L1164.27,322.33 L1166.36,322.87 L1168.45,323.40 L1170.53,323.93 L1172.62,324.44 L1174.71,324.95 L1176.79,325.44 L1178.88,325.93 L1180.96,326.41 L1183.05,326.88 L1185.14,327.34 L1187.22,327.80 L1189.31,328.25 L1191.40,328.68 L1193.48,329.12 L1195.57,329.54 L1197.66,329.96 L1199.74,330.37 L1201.83,330.77 L1203.91,331.17 L1206.00,331.56 L1208.09,331.94 L1210.17,332.31 L1212.26,332.68 L1214.35,333.05 L1216.43,333.40 L1218.52,333.75 L1220.61,334.10 L1222.69,334.44 L1224.78,334.77 L1226.87,335.10 L1228.95,335.42 L1231.04,335.74 L1233.12,336.05 L1235.21,336.35 L1237.30,336.65 L1239.38,336.95 L1241.47,337.23 L1243.56,337.52 L1245.64,337.80 L1247.73,338.07 L1249.82,338.34 L1251.90,338.61 L1253.99,338.87 L1256.08,339.13 L1258.16,339.38 L1260.25,339.63 L1262.33,339.87 L1264.42,340.11 L1266.51,340.34 L1268.59,340.58 L1270.68,340.80 L1272.77,341.03 L1274.85,341.24 L1276.94,341.46 L1279.03,341.67 L1281.11,341.88 L1283.20,342.08 L1285.29,342.29 L1287.37,342.48 L1289.46,342.68 L1291.54,342.87 L1293.63,343.06 L1295.72,343.24 L1297.80,343.42 L1299.89,343.60 L1301.98,343.77 L1304.06,343.95 L1306.15,344.12 L1308.24,344.28 L1310.32,344.44 L1312.41,344.60 L1314.50,344.76 L1316.58,344.92 L1318.67,345.07 L1320.75,345.22 L1322.84,345.37 L1324.93,345.51 L1327.01,345.65 L1329.10,345.79" fill="none" stroke="#9cef66" stroke-width="5.8" stroke-linejoin="round"/>
<path d="M1051.30,353.75 L1051.45,345.26 L1051.60,337.34 L1051.75,329.97 L1051.89,323.10 L1052.04,316.69 L1052.19,310.72 L1052.34,305.16 L1052.49,299.98 L1052.64,295.15 L1052.78,290.65 L1052.93,286.45 L1053.08,282.54 L1053.23,278.90 L1053.38,275.50 L1053.53,272.34 L1053.67,269.39 L1053.82,266.64 L1053.97,264.08 L1054.12,261.69 L1054.27,259.47 L1054.42,257.40 L1054.56,255.47 L1054.71,253.67 L1054.86,251.99 L1055.01,250.42 L1055.16,248.97 L1055.31,247.61 L1055.46,246.34 L1055.60,245.17 L1055.75,244.07 L1055.90,243.04 L1056.05,242.09 L1056.20,241.20 L1056.35,240.37 L1056.49,239.60 L1056.64,238.88 L1056.79,238.21 L1056.94,237.58 L1057.09,237.00 L1057.09,237.00 L1057.20,246.02 L1057.32,252.56 L1057.43,257.32 L1057.55,260.81 L1057.67,263.37 L1057.78,265.29 L1057.90,266.72 L1058.01,267.82 L1058.13,268.68 L1058.24,269.36 L1058.36,269.91 L1058.48,270.37 L1058.59,270.77 L1058.71,271.11 L1058.82,271.42 L1058.94,271.70 L1059.06,271.97 L1059.17,272.21 L1059.29,272.45 L1059.40,272.67 L1059.52,272.89 L1059.63,273.10 L1059.75,273.31 L1059.87,273.51 L1059.98,273.70 L1060.10,273.90 L1060.21,274.09 L1060.33,274.27 L1060.44,274.46 L1060.56,274.64 L1060.68,274.82 L1060.79,274.99 L1060.91,275.17 L1061.02,275.34 L1061.14,275.50 L1061.25,275.67 L1061.37,275.83 L1061.49,275.99 L1061.60,276.15 L1061.72,276.31 L1061.83,276.46 L1061.95,276.62 L1062.06,276.77 L1062.18,276.92 L1062.30,277.06 L1062.41,277.21 L1062.53,277.35 L1062.64,277.49 L1062.76,277.63 L1062.87,277.77 L1063.11,278.04 L1063.55,278.54 L1063.99,279.02 L1064.42,279.48 L1064.86,279.92 L1065.30,280.34 L1065.74,280.75 L1066.18,281.15 L1066.62,281.54 L1067.06,281.91 L1067.50,282.27 L1067.94,282.62 L1068.38,282.96 L1068.82,283.30 L1069.26,283.63 L1069.70,283.95 L1070.13,284.26 L1070.57,284.57 L1071.01,284.87 L1071.45,285.16 L1071.89,285.45 L1072.33,285.74 L1072.77,286.02 L1073.21,286.30 L1073.65,286.58 L1074.09,286.85 L1074.53,287.12 L1074.97,287.38 L1075.41,287.64 L1075.84,287.90 L1076.28,288.16 L1076.72,288.42 L1077.16,288.67 L1077.60,288.92 L1078.04,289.17 L1078.48,289.41 L1078.92,289.66 L1079.36,289.90 L1079.80,290.14 L1080.24,290.38 L1080.82,290.70 L1082.90,291.81 L1084.99,292.89 L1087.08,293.95 L1089.16,294.99 L1091.25,296.01 L1093.33,297.00 L1095.42,297.98 L1097.51,298.95 L1099.59,299.89 L1101.68,300.82 L1103.77,301.73 L1105.85,302.63 L1107.94,303.51 L1110.03,304.38 L1112.11,305.23 L1114.20,306.06 L1116.29,306.88 L1118.37,307.69 L1120.46,308.49 L1122.54,309.27 L1124.63,310.03 L1126.72,310.79 L1128.80,311.53 L1130.89,312.25 L1132.98,312.97 L1135.06,313.67 L1137.15,314.36 L1139.24,315.04 L1141.32,315.71 L1143.41,316.36 L1145.50,317.01 L1147.58,317.64 L1149.67,318.26 L1151.75,318.88 L1153.84,319.48 L1155.93,320.07 L1158.01,320.65 L1160.10,321.22 L1162.19,321.78 L1164.27,322.33 L1166.36,322.87 L1168.45,323.40 L1170.53,323.93 L1172.62,324.44 L1174.71,324.95 L1176.79,325.44 L1178.88,325.93 L1180.96,326.41 L1183.05,326.88 L1185.14,327.34 L1187.22,327.80 L1189.31,328.25 L1191.40,328.68 L1193.48,329.12 L1195.57,329.54 L1197.66,329.96 L1199.74,330.37 L1201.83,330.77 L1203.91,331.17 L1206.00,331.56 L1208.09,331.94 L1210.17,332.31 L1212.26,332.68 L1214.35,333.05 L1216.43,333.40 L1218.52,333.75 L1220.61,334.10 L1222.69,334.44 L1224.78,334.77 L1226.87,335.10 L1228.95,335.42 L1231.04,335.74 L1233.12,336.05 L1235.21,336.35 L1237.30,336.65 L1239.38,336.95 L1241.47,337.23 L1243.56,337.52 L1245.64,337.80 L1247.73,338.07 L1249.82,338.34 L1251.90,338.61 L1253.99,338.87 L1256.08,339.13 L1258.16,339.38 L1260.25,339.63 L1262.33,339.87 L1264.42,340.11 L1266.51,340.34 L1268.59,340.58 L1270.68,340.80 L1272.77,341.03 L1274.85,341.24 L1276.94,341.46 L1279.03,341.67 L1281.11,341.88 L1283.20,342.08 L1285.29,342.29 L1287.37,342.48 L1289.46,342.68 L1291.54,342.87 L1293.63,343.06 L1295.72,343.24 L1297.80,343.42 L1299.89,343.60 L1301.98,343.77 L1304.06,343.95 L1306.15,344.12 L1308.24,344.28 L1310.32,344.44 L1312.41,344.60 L1314.50,344.76 L1316.58,344.92 L1318.67,345.07 L1320.75,345.22 L1322.84,345.37 L1324.93,345.51 L1327.01,345.65 L1329.10,345.79" fill="none" stroke="#243e16" stroke-width="1.6" stroke-linejoin="round"/>
<path d="M1059.98,273.70 L1060.10,273.90 L1060.21,274.09 L1060.33,274.27 L1060.44,274.46 L1060.56,274.64 L1060.68,274.82 L1060.79,274.99 L1060.91,275.17 L1061.02,275.34 L1061.14,275.50 L1061.25,275.67 L1061.37,275.83 L1061.49,275.99 L1061.60,276.15 L1061.72,276.31 L1061.83,276.46 L1061.95,276.62 L1062.06,276.77 L1062.18,276.92 L1062.30,277.06 L1062.41,277.21 L1062.53,277.35 L1062.64,277.49 L1062.76,277.63 L1062.87,277.77 L1063.11,278.04 L1063.55,278.54 L1063.99,279.02 L1064.42,279.48 L1064.86,279.92 L1065.30,280.34 L1065.74,280.75 L1066.18,281.15 L1066.62,281.54 L1067.06,281.91 L1067.50,282.27 L1067.94,282.62 L1068.38,282.96 L1068.82,283.30 L1069.26,283.63 L1069.70,283.95 L1070.13,284.26 L1070.57,284.57 L1071.01,284.87 L1071.45,285.16 L1071.89,285.45 L1072.33,285.74 L1072.77,286.02 L1073.21,286.30 L1073.65,286.58 L1074.09,286.85 L1074.53,287.12 L1074.97,287.38 L1075.41,287.64 L1075.84,287.90 L1076.28,288.16 L1076.72,288.42 L1077.16,288.67 L1077.60,288.92 L1078.04,289.17 L1078.48,289.41 L1078.92,289.66 L1079.36,289.90 L1079.80,290.14 L1080.24,290.38 L1080.82,290.70 L1082.90,291.81 L1084.99,292.89 L1087.08,293.95 L1089.16,294.99 L1091.25,296.01 L1093.33,297.00 L1095.42,297.98 L1097.51,298.95 L1099.59,299.89 L1101.68,300.82 L1103.77,301.73 L1105.85,302.63 L1107.94,303.51 L1110.03,304.38 L1112.11,305.23 L1114.20,306.06 L1116.29,306.88 L1118.37,307.69 L1120.46,308.49 L1122.54,309.27 L1124.63,310.03 L1126.72,310.79 L1128.80,311.53 L1130.89,312.25 L1132.98,312.97 L1135.06,313.67 L1137.15,314.36 L1139.24,315.04 L1141.32,315.71 L1143.41,316.36 L1145.50,317.01 L1147.58,317.64 L1149.67,318.26 L1151.75,318.88 L1153.84,319.48 L1155.93,320.07 L1158.01,320.65 L1160.10,321.22 L1162.19,321.78 L1164.27,322.33 L1166.36,322.87 L1168.45,323.40 L1170.53,323.93 L1172.62,324.44 L1174.71,324.95 L1176.79,325.44 L1178.88,325.93 L1180.96,326.41 L1183.05,326.88 L1185.14,327.34 L1187.22,327.80 L1189.31,328.25 L1191.40,328.68 L1193.48,329.12 L1195.57,329.54 L1197.66,329.96 L1199.74,330.37 L1201.83,330.77 L1203.91,331.17 L1206.00,331.56 L1208.09,331.94 L1210.17,332.31 L1212.26,332.68 L1214.35,333.05 L1216.43,333.40 L1218.52,333.75 L1220.61,334.10 L1222.69,334.44 L1224.78,334.77 L1226.87,335.10 L1228.95,335.42 L1231.04,335.74 L1233.12,336.05 L1235.21,336.35 L1237.30,336.65 L1239.38,336.95 L1241.47,337.23 L1243.56,337.52 L1245.64,337.80 L1247.73,338.07 L1249.82,338.34 L1251.90,338.61 L1253.99,338.87 L1256.08,339.13 L1258.16,339.38 L1260.25,339.63 L1262.33,339.87 L1264.42,340.11 L1266.51,340.34 L1268.59,340.58 L1270.68,340.80 L1272.77,341.03 L1274.85,341.24 L1276.94,341.46 L1279.03,341.67 L1281.11,341.88 L1283.20,342.08 L1285.29,342.29 L1287.37,342.48 L1289.46,342.68 L1291.54,342.87 L1293.63,343.06 L1295.72,343.24 L1297.80,343.42 L1299.89,343.60 L1301.98,343.77 L1304.06,343.95 L1306.15,344.12 L1308.24,344.28 L1310.32,344.44 L1312.41,344.60 L1314.50,344.76 L1316.58,344.92 L1318.67,345.07 L1320.75,345.22 L1322.84,345.37 L1324.93,345.51 L1327.01,345.65 L1329.10,345.79" fill="none" stroke="#243e16" stroke-width="2.3" stroke-linejoin="round"/>
<path d="M1051.30,353.75 L1051.45,336.13 L1051.60,319.71 L1051.75,304.41 L1051.89,290.15 L1052.04,276.86 L1052.19,264.47 L1052.34,252.93 L1052.49,242.18 L1052.64,232.15 L1052.78,222.81 L1052.93,214.11 L1053.08,205.99 L1053.23,198.43 L1053.38,191.39 L1053.53,184.82 L1053.67,178.71 L1053.82,173.00 L1053.97,167.69 L1054.12,162.74 L1054.27,158.12 L1054.42,153.82 L1054.56,149.81 L1054.71,146.08 L1054.86,142.60 L1055.01,139.35 L1055.16,136.33 L1055.31,133.51 L1055.46,130.89 L1055.60,128.44 L1055.75,126.16 L1055.90,124.04 L1056.05,122.06 L1056.20,120.21 L1056.35,118.49 L1056.49,116.89 L1056.64,115.40 L1056.79,114.01 L1056.94,112.71 L1057.09,111.50 L1057.09,111.50 L1057.20,140.38 L1057.32,163.63 L1057.43,182.34 L1057.55,197.42 L1057.67,209.58 L1057.78,219.39 L1057.90,227.32 L1058.01,233.73 L1058.13,238.93 L1058.24,243.15 L1058.36,246.58 L1058.48,249.38 L1058.59,251.68 L1058.71,253.57 L1058.82,255.13 L1058.94,256.42 L1059.06,257.51 L1059.17,258.42 L1059.29,259.20 L1059.40,259.86 L1059.52,260.44 L1059.63,260.94 L1059.75,261.38 L1059.87,261.78 L1059.98,262.14 L1060.10,262.47 L1060.21,262.78 L1060.33,263.06 L1060.44,263.33 L1060.56,263.58 L1060.68,263.82 L1060.79,264.05 L1060.91,264.27 L1061.02,264.49 L1061.14,264.70 L1061.25,264.91 L1061.37,265.11 L1061.49,265.31 L1061.60,265.50 L1061.72,265.69 L1061.83,265.88 L1061.95,266.07 L1062.06,266.25 L1062.18,266.44 L1062.30,266.62 L1062.41,266.80 L1062.53,266.97 L1062.64,267.15 L1062.76,267.32 L1062.87,267.49 L1063.11,267.83 L1063.55,268.46 L1063.99,269.07 L1064.42,269.67 L1064.86,270.24 L1065.30,270.80 L1065.74,271.34 L1066.18,271.87 L1066.62,272.38 L1067.06,272.88 L1067.50,273.36 L1067.94,273.84 L1068.38,274.30 L1068.82,274.74 L1069.26,275.18 L1069.70,275.60 L1070.13,276.02 L1070.57,276.42 L1071.01,276.82 L1071.45,277.20 L1071.89,277.58 L1072.33,277.95 L1072.77,278.31 L1073.21,278.66 L1073.65,279.00 L1074.09,279.34 L1074.53,279.67 L1074.97,279.99 L1075.41,280.31 L1075.84,280.62 L1076.28,280.92 L1076.72,281.22 L1077.16,281.52 L1077.60,281.80 L1078.04,282.09 L1078.48,282.36 L1078.92,282.64 L1079.36,282.90 L1079.80,283.17 L1080.24,283.43 L1080.82,283.76 L1082.90,284.92 L1084.99,286.01 L1087.08,287.03 L1089.16,288.00 L1091.25,288.92 L1093.33,289.81 L1095.42,290.67 L1097.51,291.50 L1099.59,292.30 L1101.68,293.09 L1103.77,293.85 L1105.85,294.60 L1107.94,295.33 L1110.03,296.05 L1112.11,296.75 L1114.20,297.44 L1116.29,298.13 L1118.37,298.80 L1120.46,299.46 L1122.54,300.11 L1124.63,300.75 L1126.72,301.39 L1128.80,302.01 L1130.89,302.63 L1132.98,303.24 L1135.06,303.84 L1137.15,304.44 L1139.24,305.02 L1141.32,305.60 L1143.41,306.18 L1145.50,306.74 L1147.58,307.30 L1149.67,307.85 L1151.75,308.40 L1153.84,308.94 L1155.93,309.47 L1158.01,310.00 L1160.10,310.52 L1162.19,311.03 L1164.27,311.54 L1166.36,312.04 L1168.45,312.53 L1170.53,313.02 L1172.62,313.51 L1174.71,313.99 L1176.79,314.46 L1178.88,314.93 L1180.96,315.39 L1183.05,315.84 L1185.14,316.29 L1187.22,316.74 L1189.31,317.18 L1191.40,317.61 L1193.48,318.04 L1195.57,318.46 L1197.66,318.88 L1199.74,319.30 L1201.83,319.71 L1203.91,320.11 L1206.00,320.51 L1208.09,320.91 L1210.17,321.30 L1212.26,321.68 L1214.35,322.06 L1216.43,322.44 L1218.52,322.81 L1220.61,323.18 L1222.69,323.54 L1224.78,323.90 L1226.87,324.25 L1228.95,324.60 L1231.04,324.95 L1233.12,325.29 L1235.21,325.63 L1237.30,325.97 L1239.38,326.30 L1241.47,326.62 L1243.56,326.94 L1245.64,327.26 L1247.73,327.58 L1249.82,327.89 L1251.90,328.19 L1253.99,328.50 L1256.08,328.80 L1258.16,329.09 L1260.25,329.39 L1262.33,329.68 L1264.42,329.96 L1266.51,330.25 L1268.59,330.52 L1270.68,330.80 L1272.77,331.07 L1274.85,331.34 L1276.94,331.61 L1279.03,331.87 L1281.11,332.13 L1283.20,332.39 L1285.29,332.64 L1287.37,332.89 L1289.46,333.14 L1291.54,333.38 L1293.63,333.63 L1295.72,333.87 L1297.80,334.10 L1299.89,334.34 L1301.98,334.57 L1304.06,334.79 L1306.15,335.02 L1308.24,335.24 L1310.32,335.46 L1312.41,335.68 L1314.50,335.89 L1316.58,336.11 L1318.67,336.31 L1320.75,336.52 L1322.84,336.73 L1324.93,336.93 L1327.01,337.13 L1329.10,337.33" fill="none" stroke="#55d8dc" stroke-width="1.6" stroke-linejoin="round"/>
<path d="M1051.30,353.75 L1051.45,347.08 L1051.60,340.86 L1051.75,335.06 L1051.89,329.66 L1052.04,324.63 L1052.19,319.94 L1052.34,315.57 L1052.49,311.49 L1052.64,307.70 L1052.78,304.16 L1052.93,300.86 L1053.08,297.79 L1053.23,294.93 L1053.38,292.26 L1053.53,289.77 L1053.67,287.45 L1053.82,285.29 L1053.97,283.28 L1054.12,281.41 L1054.27,279.66 L1054.42,278.03 L1054.56,276.51 L1054.71,275.10 L1054.86,273.78 L1055.01,272.55 L1055.16,271.40 L1055.31,270.34 L1055.46,269.34 L1055.60,268.42 L1055.75,267.55 L1055.90,266.75 L1056.05,266.00 L1056.20,265.30 L1056.35,264.65 L1056.49,264.04 L1056.64,263.48 L1056.79,262.95 L1056.94,262.46 L1057.09,262.00 L1057.09,262.00 L1057.20,266.46 L1057.32,269.90 L1057.43,272.55 L1057.55,274.60 L1057.67,276.19 L1057.78,277.43 L1057.90,278.40 L1058.01,279.17 L1058.13,279.79 L1058.24,280.28 L1058.36,280.69 L1058.48,281.02 L1058.59,281.30 L1058.71,281.55 L1058.82,281.76 L1058.94,281.95 L1059.06,282.11 L1059.17,282.27 L1059.29,282.42 L1059.40,282.55 L1059.52,282.68 L1059.63,282.81 L1059.75,282.93 L1059.87,283.05 L1059.98,283.17 L1060.10,283.28 L1060.21,283.40 L1060.33,283.51 L1060.44,283.62 L1060.56,283.73 L1060.68,283.84 L1060.79,283.95 L1060.91,284.06 L1061.02,284.17 L1061.14,284.28 L1061.25,284.39 L1061.37,284.50 L1061.49,284.61 L1061.60,284.72 L1061.72,284.83 L1061.83,284.93 L1061.95,285.04 L1062.06,285.15 L1062.18,285.26 L1062.30,285.36 L1062.41,285.47 L1062.53,285.58 L1062.64,285.68 L1062.76,285.79 L1062.87,285.90 L1063.11,286.11 L1063.55,286.51 L1063.99,286.91 L1064.42,287.30 L1064.86,287.70 L1065.30,288.09 L1065.74,288.48 L1066.18,288.86 L1066.62,289.25 L1067.06,289.63 L1067.50,290.01 L1067.94,290.39 L1068.38,290.76 L1068.82,291.13 L1069.26,291.50 L1069.70,291.87 L1070.13,292.24 L1070.57,292.60 L1071.01,292.97 L1071.45,293.33 L1071.89,293.68 L1072.33,294.04 L1072.77,294.39 L1073.21,294.74 L1073.65,295.09 L1074.09,295.44 L1074.53,295.79 L1074.97,296.13 L1075.41,296.47 L1075.84,296.81 L1076.28,297.15 L1076.72,297.48 L1077.16,297.81 L1077.60,298.15 L1078.04,298.48 L1078.48,298.80 L1078.92,299.13 L1079.36,299.45 L1079.80,299.77 L1080.24,300.09 L1080.82,300.51 L1082.90,301.99 L1084.99,303.43 L1087.08,304.83 L1089.16,306.19 L1091.25,307.51 L1093.33,308.80 L1095.42,310.05 L1097.51,311.27 L1099.59,312.45 L1101.68,313.60 L1103.77,314.71 L1105.85,315.80 L1107.94,316.85 L1110.03,317.88 L1112.11,318.88 L1114.20,319.85 L1116.29,320.79 L1118.37,321.71 L1120.46,322.60 L1122.54,323.46 L1124.63,324.31 L1126.72,325.13 L1128.80,325.92 L1130.89,326.70 L1132.98,327.45 L1135.06,328.18 L1137.15,328.89 L1139.24,329.58 L1141.32,330.25 L1143.41,330.91 L1145.50,331.54 L1147.58,332.16 L1149.67,332.76 L1151.75,333.35 L1153.84,333.91 L1155.93,334.46 L1158.01,335.00 L1160.10,335.52 L1162.19,336.03 L1164.27,336.52 L1166.36,337.00 L1168.45,337.47 L1170.53,337.92 L1172.62,338.36 L1174.71,338.79 L1176.79,339.20 L1178.88,339.61 L1180.96,340.00 L1183.05,340.38 L1185.14,340.76 L1187.22,341.12 L1189.31,341.47 L1191.40,341.81 L1193.48,342.14 L1195.57,342.47 L1197.66,342.78 L1199.74,343.08 L1201.83,343.38 L1203.91,343.67 L1206.00,343.95 L1208.09,344.22 L1210.17,344.49 L1212.26,344.75 L1214.35,345.00 L1216.43,345.24 L1218.52,345.48 L1220.61,345.71 L1222.69,345.93 L1224.78,346.15 L1226.87,346.36 L1228.95,346.56 L1231.04,346.76 L1233.12,346.96 L1235.21,347.15 L1237.30,347.33 L1239.38,347.51 L1241.47,347.68 L1243.56,347.85 L1245.64,348.02 L1247.73,348.18 L1249.82,348.33 L1251.90,348.48 L1253.99,348.63 L1256.08,348.77 L1258.16,348.91 L1260.25,349.04 L1262.33,349.17 L1264.42,349.30 L1266.51,349.43 L1268.59,349.55 L1270.68,349.66 L1272.77,349.78 L1274.85,349.89 L1276.94,349.99 L1279.03,350.10 L1281.11,350.20 L1283.20,350.30 L1285.29,350.39 L1287.37,350.49 L1289.46,350.58 L1291.54,350.67 L1293.63,350.75 L1295.72,350.84 L1297.80,350.92 L1299.89,351.00 L1301.98,351.07 L1304.06,351.15 L1306.15,351.22 L1308.24,351.29 L1310.32,351.36 L1312.41,351.42 L1314.50,351.49 L1316.58,351.55 L1318.67,351.61 L1320.75,351.67 L1322.84,351.73 L1324.93,351.79 L1327.01,351.84 L1329.10,351.89" fill="none" stroke="#55d8dc" stroke-width="1.6" stroke-linejoin="round"/>
<path d="M1060.56,263.58 L1060.68,263.82 L1060.79,264.05 L1060.91,264.27 L1061.02,264.49 L1061.14,264.70 L1061.25,264.91 L1061.37,265.11 L1061.49,265.31 L1061.60,265.50 L1061.72,265.69 L1061.83,265.88 L1061.95,266.07 L1062.06,266.25 L1062.18,266.44 L1062.30,266.62 L1062.41,266.80 L1062.53,266.97 L1062.64,267.15 L1062.76,267.32 L1062.87,267.49 L1063.11,267.83 L1063.55,268.46 L1063.99,269.07 L1064.42,269.67 L1064.86,270.24 L1065.30,270.80 L1065.74,271.34 L1066.18,271.87 L1066.62,272.38 L1067.06,272.88 L1067.50,273.36 L1067.94,273.84 L1068.38,274.30 L1068.82,274.74 L1069.26,275.18 L1069.70,275.60 L1070.13,276.02 L1070.57,276.42 L1071.01,276.82 L1071.45,277.20 L1071.89,277.58 L1072.33,277.95 L1072.77,278.31 L1073.21,278.66 L1073.65,279.00 L1074.09,279.34 L1074.53,279.67 L1074.97,279.99 L1075.41,280.31 L1075.84,280.62 L1076.28,280.92 L1076.72,281.22 L1077.16,281.52 L1077.60,281.80 L1078.04,282.09 L1078.48,282.36 L1078.92,282.64 L1079.36,282.90 L1079.80,283.17 L1080.24,283.43 L1080.82,283.76 L1082.90,284.92 L1084.99,286.01 L1087.08,287.03 L1089.16,288.00 L1091.25,288.92 L1093.33,289.81 L1095.42,290.67 L1097.51,291.50 L1099.59,292.30 L1101.68,293.09 L1103.77,293.85 L1105.85,294.60 L1107.94,295.33 L1110.03,296.05 L1112.11,296.75 L1114.20,297.44 L1116.29,298.13 L1118.37,298.80 L1120.46,299.46 L1122.54,300.11 L1124.63,300.75 L1126.72,301.39 L1128.80,302.01 L1130.89,302.63 L1132.98,303.24 L1135.06,303.84 L1137.15,304.44 L1139.24,305.02 L1141.32,305.60 L1143.41,306.18 L1145.50,306.74 L1147.58,307.30 L1149.67,307.85 L1151.75,308.40 L1153.84,308.94 L1155.93,309.47 L1158.01,310.00 L1160.10,310.52 L1162.19,311.03 L1164.27,311.54 L1166.36,312.04 L1168.45,312.53 L1170.53,313.02 L1172.62,313.51 L1174.71,313.99 L1176.79,314.46 L1178.88,314.93 L1180.96,315.39 L1183.05,315.84 L1185.14,316.29 L1187.22,316.74 L1189.31,317.18 L1191.40,317.61 L1193.48,318.04 L1195.57,318.46 L1197.66,318.88 L1199.74,319.30 L1201.83,319.71 L1203.91,320.11 L1206.00,320.51 L1208.09,320.91 L1210.17,321.30 L1212.26,321.68 L1214.35,322.06 L1216.43,322.44 L1218.52,322.81 L1220.61,323.18 L1222.69,323.54 L1224.78,323.90 L1226.87,324.25 L1228.95,324.60 L1231.04,324.95 L1233.12,325.29 L1235.21,325.63 L1237.30,325.97 L1239.38,326.30 L1241.47,326.62 L1243.56,326.94 L1245.64,327.26 L1247.73,327.58 L1249.82,327.89 L1251.90,328.19 L1253.99,328.50 L1256.08,328.80 L1258.16,329.09 L1260.25,329.39 L1262.33,329.68 L1264.42,329.96 L1266.51,330.25 L1268.59,330.52 L1270.68,330.80 L1272.77,331.07 L1274.85,331.34 L1276.94,331.61 L1279.03,331.87 L1281.11,332.13 L1283.20,332.39 L1285.29,332.64 L1287.37,332.89 L1289.46,333.14 L1291.54,333.38 L1293.63,333.63 L1295.72,333.87 L1297.80,334.10 L1299.89,334.34 L1301.98,334.57 L1304.06,334.79 L1306.15,335.02 L1308.24,335.24 L1310.32,335.46 L1312.41,335.68 L1314.50,335.89 L1316.58,336.11 L1318.67,336.31 L1320.75,336.52 L1322.84,336.73 L1324.93,336.93 L1327.01,337.13 L1329.10,337.33" fill="none" stroke="#55d8dc" stroke-width="1.65" stroke-linejoin="round"/>
<path d="M1060.56,283.73 L1060.68,283.84 L1060.79,283.95 L1060.91,284.06 L1061.02,284.17 L1061.14,284.28 L1061.25,284.39 L1061.37,284.50 L1061.49,284.61 L1061.60,284.72 L1061.72,284.83 L1061.83,284.93 L1061.95,285.04 L1062.06,285.15 L1062.18,285.26 L1062.30,285.36 L1062.41,285.47 L1062.53,285.58 L1062.64,285.68 L1062.76,285.79 L1062.87,285.90 L1063.11,286.11 L1063.55,286.51 L1063.99,286.91 L1064.42,287.30 L1064.86,287.70 L1065.30,288.09 L1065.74,288.48 L1066.18,288.86 L1066.62,289.25 L1067.06,289.63 L1067.50,290.01 L1067.94,290.39 L1068.38,290.76 L1068.82,291.13 L1069.26,291.50 L1069.70,291.87 L1070.13,292.24 L1070.57,292.60 L1071.01,292.97 L1071.45,293.33 L1071.89,293.68 L1072.33,294.04 L1072.77,294.39 L1073.21,294.74 L1073.65,295.09 L1074.09,295.44 L1074.53,295.79 L1074.97,296.13 L1075.41,296.47 L1075.84,296.81 L1076.28,297.15 L1076.72,297.48 L1077.16,297.81 L1077.60,298.15 L1078.04,298.48 L1078.48,298.80 L1078.92,299.13 L1079.36,299.45 L1079.80,299.77 L1080.24,300.09 L1080.82,300.51 L1082.90,301.99 L1084.99,303.43 L1087.08,304.83 L1089.16,306.19 L1091.25,307.51 L1093.33,308.80 L1095.42,310.05 L1097.51,311.27 L1099.59,312.45 L1101.68,313.60 L1103.77,314.71 L1105.85,315.80 L1107.94,316.85 L1110.03,317.88 L1112.11,318.88 L1114.20,319.85 L1116.29,320.79 L1118.37,321.71 L1120.46,322.60 L1122.54,323.46 L1124.63,324.31 L1126.72,325.13 L1128.80,325.92 L1130.89,326.70 L1132.98,327.45 L1135.06,328.18 L1137.15,328.89 L1139.24,329.58 L1141.32,330.25 L1143.41,330.91 L1145.50,331.54 L1147.58,332.16 L1149.67,332.76 L1151.75,333.35 L1153.84,333.91 L1155.93,334.46 L1158.01,335.00 L1160.10,335.52 L1162.19,336.03 L1164.27,336.52 L1166.36,337.00 L1168.45,337.47 L1170.53,337.92 L1172.62,338.36 L1174.71,338.79 L1176.79,339.20 L1178.88,339.61 L1180.96,340.00 L1183.05,340.38 L1185.14,340.76 L1187.22,341.12 L1189.31,341.47 L1191.40,341.81 L1193.48,342.14 L1195.57,342.47 L1197.66,342.78 L1199.74,343.08 L1201.83,343.38 L1203.91,343.67 L1206.00,343.95 L1208.09,344.22 L1210.17,344.49 L1212.26,344.75 L1214.35,345.00 L1216.43,345.24 L1218.52,345.48 L1220.61,345.71 L1222.69,345.93 L1224.78,346.15 L1226.87,346.36 L1228.95,346.56 L1231.04,346.76 L1233.12,346.96 L1235.21,347.15 L1237.30,347.33 L1239.38,347.51 L1241.47,347.68 L1243.56,347.85 L1245.64,348.02 L1247.73,348.18 L1249.82,348.33 L1251.90,348.48 L1253.99,348.63 L1256.08,348.77 L1258.16,348.91 L1260.25,349.04 L1262.33,349.17 L1264.42,349.30 L1266.51,349.43 L1268.59,349.55 L1270.68,349.66 L1272.77,349.78 L1274.85,349.89 L1276.94,349.99 L1279.03,350.10 L1281.11,350.20 L1283.20,350.30 L1285.29,350.39 L1287.37,350.49 L1289.46,350.58 L1291.54,350.67 L1293.63,350.75 L1295.72,350.84 L1297.80,350.92 L1299.89,351.00 L1301.98,351.07 L1304.06,351.15 L1306.15,351.22 L1308.24,351.29 L1310.32,351.36 L1312.41,351.42 L1314.50,351.49 L1316.58,351.55 L1318.67,351.61 L1320.75,351.67 L1322.84,351.73 L1324.93,351.79 L1327.01,351.84 L1329.10,351.89" fill="none" stroke="#55d8dc" stroke-width="1.65" stroke-linejoin="round"/>
<path d="M1057.09,237.00 L1057.20,246.02 L1057.32,252.56 L1057.43,257.32 L1057.55,260.81 L1057.67,263.37 L1057.78,265.29 L1057.90,266.72 L1058.01,267.82 L1058.13,268.68 L1058.24,269.36 L1058.36,269.91 L1058.48,270.37 L1058.59,270.77 L1058.71,271.11 L1058.82,271.42 L1058.94,271.70 L1059.06,271.97 L1059.17,272.21 L1059.29,272.45 L1059.40,272.67" fill="none" stroke="#243e16" stroke-width="1.5" stroke-linejoin="round" opacity="0.9"/>
<clipPath id="mkC"><rect x="1052.40" y="246.60" width="12" height="12"/><rect x="1058.60" y="269.20" width="12" height="12"/><rect x="1063.00" y="278.00" width="12" height="12"/><rect x="1075.00" y="287.60" width="12" height="12"/><rect x="1098.00" y="301.00" width="12" height="12"/><rect x="1121.00" y="312.10" width="12" height="12"/><rect x="1167.00" y="323.75" width="12" height="12"/></clipPath>
<rect x="1052.40" y="246.60" width="12" height="12" fill="#dc00fa"/>
<rect x="1058.60" y="269.20" width="12" height="12" fill="#dc00fa"/>
<rect x="1063.00" y="278.00" width="12" height="12" fill="#dc00fa"/>
<rect x="1075.00" y="287.60" width="12" height="12" fill="#dc00fa"/>
<rect x="1098.00" y="301.00" width="12" height="12" fill="#dc00fa"/>
<rect x="1121.00" y="312.10" width="12" height="12" fill="#dc00fa"/>
<rect x="1167.00" y="323.75" width="12" height="12" fill="#dc00fa"/>
<g clip-path="url(#mkC)" opacity="0.6"><path d="M1051.30,353.75 L1051.45,336.13 L1051.60,319.71 L1051.75,304.41 L1051.89,290.15 L1052.04,276.86 L1052.19,264.47 L1052.34,252.93 L1052.49,242.18 L1052.64,232.15 L1052.78,222.81 L1052.93,214.11 L1053.08,205.99 L1053.23,198.43 L1053.38,191.39 L1053.53,184.82 L1053.67,178.71 L1053.82,173.00 L1053.97,167.69 L1054.12,162.74 L1054.27,158.12 L1054.42,153.82 L1054.56,149.81 L1054.71,146.08 L1054.86,142.60 L1055.01,139.35 L1055.16,136.33 L1055.31,133.51 L1055.46,130.89 L1055.60,128.44 L1055.75,126.16 L1055.90,124.04 L1056.05,122.06 L1056.20,120.21 L1056.35,118.49 L1056.49,116.89 L1056.64,115.40 L1056.79,114.01 L1056.94,112.71 L1057.09,111.50 L1057.09,111.50 L1057.20,140.38 L1057.32,163.63 L1057.43,182.34 L1057.55,197.42 L1057.67,209.58 L1057.78,219.39 L1057.90,227.32 L1058.01,233.73 L1058.13,238.93 L1058.24,243.15 L1058.36,246.58 L1058.48,249.38 L1058.59,251.68 L1058.71,253.57 L1058.82,255.13 L1058.94,256.42 L1059.06,257.51 L1059.17,258.42 L1059.29,259.20 L1059.40,259.86 L1059.52,260.44 L1059.63,260.94 L1059.75,261.38 L1059.87,261.78 L1059.98,262.14 L1060.10,262.47 L1060.21,262.78 L1060.33,263.06 L1060.44,263.33 L1060.56,263.58 L1060.68,263.82 L1060.79,264.05 L1060.91,264.27 L1061.02,264.49 L1061.14,264.70 L1061.25,264.91 L1061.37,265.11 L1061.49,265.31 L1061.60,265.50 L1061.72,265.69 L1061.83,265.88 L1061.95,266.07 L1062.06,266.25 L1062.18,266.44 L1062.30,266.62 L1062.41,266.80 L1062.53,266.97 L1062.64,267.15 L1062.76,267.32 L1062.87,267.49 L1063.11,267.83 L1063.55,268.46 L1063.99,269.07 L1064.42,269.67 L1064.86,270.24 L1065.30,270.80 L1065.74,271.34 L1066.18,271.87 L1066.62,272.38 L1067.06,272.88 L1067.50,273.36 L1067.94,273.84 L1068.38,274.30 L1068.82,274.74 L1069.26,275.18 L1069.70,275.60 L1070.13,276.02 L1070.57,276.42 L1071.01,276.82 L1071.45,277.20 L1071.89,277.58 L1072.33,277.95 L1072.77,278.31 L1073.21,278.66 L1073.65,279.00 L1074.09,279.34 L1074.53,279.67 L1074.97,279.99 L1075.41,280.31 L1075.84,280.62 L1076.28,280.92 L1076.72,281.22 L1077.16,281.52 L1077.60,281.80 L1078.04,282.09 L1078.48,282.36 L1078.92,282.64 L1079.36,282.90 L1079.80,283.17 L1080.24,283.43 L1080.82,283.76 L1082.90,284.92 L1084.99,286.01 L1087.08,287.03 L1089.16,288.00 L1091.25,288.92 L1093.33,289.81 L1095.42,290.67 L1097.51,291.50 L1099.59,292.30 L1101.68,293.09 L1103.77,293.85 L1105.85,294.60 L1107.94,295.33 L1110.03,296.05 L1112.11,296.75 L1114.20,297.44 L1116.29,298.13 L1118.37,298.80 L1120.46,299.46 L1122.54,300.11 L1124.63,300.75 L1126.72,301.39 L1128.80,302.01 L1130.89,302.63 L1132.98,303.24 L1135.06,303.84 L1137.15,304.44 L1139.24,305.02 L1141.32,305.60 L1143.41,306.18 L1145.50,306.74 L1147.58,307.30 L1149.67,307.85 L1151.75,308.40 L1153.84,308.94 L1155.93,309.47 L1158.01,310.00 L1160.10,310.52 L1162.19,311.03 L1164.27,311.54 L1166.36,312.04 L1168.45,312.53 L1170.53,313.02 L1172.62,313.51 L1174.71,313.99 L1176.79,314.46 L1178.88,314.93 L1180.96,315.39 L1183.05,315.84 L1185.14,316.29 L1187.22,316.74 L1189.31,317.18 L1191.40,317.61 L1193.48,318.04 L1195.57,318.46 L1197.66,318.88 L1199.74,319.30 L1201.83,319.71 L1203.91,320.11 L1206.00,320.51 L1208.09,320.91 L1210.17,321.30 L1212.26,321.68 L1214.35,322.06 L1216.43,322.44 L1218.52,322.81 L1220.61,323.18 L1222.69,323.54 L1224.78,323.90 L1226.87,324.25 L1228.95,324.60 L1231.04,324.95 L1233.12,325.29 L1235.21,325.63 L1237.30,325.97 L1239.38,326.30 L1241.47,326.62 L1243.56,326.94 L1245.64,327.26 L1247.73,327.58 L1249.82,327.89 L1251.90,328.19 L1253.99,328.50 L1256.08,328.80 L1258.16,329.09 L1260.25,329.39 L1262.33,329.68 L1264.42,329.96 L1266.51,330.25 L1268.59,330.52 L1270.68,330.80 L1272.77,331.07 L1274.85,331.34 L1276.94,331.61 L1279.03,331.87 L1281.11,332.13 L1283.20,332.39 L1285.29,332.64 L1287.37,332.89 L1289.46,333.14 L1291.54,333.38 L1293.63,333.63 L1295.72,333.87 L1297.80,334.10 L1299.89,334.34 L1301.98,334.57 L1304.06,334.79 L1306.15,335.02 L1308.24,335.24 L1310.32,335.46 L1312.41,335.68 L1314.50,335.89 L1316.58,336.11 L1318.67,336.31 L1320.75,336.52 L1322.84,336.73 L1324.93,336.93 L1327.01,337.13 L1329.10,337.33" fill="none" stroke="#55d8dc" stroke-width="1.6" stroke-linejoin="round"/><path d="M1051.30,353.75 L1051.45,347.08 L1051.60,340.86 L1051.75,335.06 L1051.89,329.66 L1052.04,324.63 L1052.19,319.94 L1052.34,315.57 L1052.49,311.49 L1052.64,307.70 L1052.78,304.16 L1052.93,300.86 L1053.08,297.79 L1053.23,294.93 L1053.38,292.26 L1053.53,289.77 L1053.67,287.45 L1053.82,285.29 L1053.97,283.28 L1054.12,281.41 L1054.27,279.66 L1054.42,278.03 L1054.56,276.51 L1054.71,275.10 L1054.86,273.78 L1055.01,272.55 L1055.16,271.40 L1055.31,270.34 L1055.46,269.34 L1055.60,268.42 L1055.75,267.55 L1055.90,266.75 L1056.05,266.00 L1056.20,265.30 L1056.35,264.65 L1056.49,264.04 L1056.64,263.48 L1056.79,262.95 L1056.94,262.46 L1057.09,262.00 L1057.09,262.00 L1057.20,266.46 L1057.32,269.90 L1057.43,272.55 L1057.55,274.60 L1057.67,276.19 L1057.78,277.43 L1057.90,278.40 L1058.01,279.17 L1058.13,279.79 L1058.24,280.28 L1058.36,280.69 L1058.48,281.02 L1058.59,281.30 L1058.71,281.55 L1058.82,281.76 L1058.94,281.95 L1059.06,282.11 L1059.17,282.27 L1059.29,282.42 L1059.40,282.55 L1059.52,282.68 L1059.63,282.81 L1059.75,282.93 L1059.87,283.05 L1059.98,283.17 L1060.10,283.28 L1060.21,283.40 L1060.33,283.51 L1060.44,283.62 L1060.56,283.73 L1060.68,283.84 L1060.79,283.95 L1060.91,284.06 L1061.02,284.17 L1061.14,284.28 L1061.25,284.39 L1061.37,284.50 L1061.49,284.61 L1061.60,284.72 L1061.72,284.83 L1061.83,284.93 L1061.95,285.04 L1062.06,285.15 L1062.18,285.26 L1062.30,285.36 L1062.41,285.47 L1062.53,285.58 L1062.64,285.68 L1062.76,285.79 L1062.87,285.90 L1063.11,286.11 L1063.55,286.51 L1063.99,286.91 L1064.42,287.30 L1064.86,287.70 L1065.30,288.09 L1065.74,288.48 L1066.18,288.86 L1066.62,289.25 L1067.06,289.63 L1067.50,290.01 L1067.94,290.39 L1068.38,290.76 L1068.82,291.13 L1069.26,291.50 L1069.70,291.87 L1070.13,292.24 L1070.57,292.60 L1071.01,292.97 L1071.45,293.33 L1071.89,293.68 L1072.33,294.04 L1072.77,294.39 L1073.21,294.74 L1073.65,295.09 L1074.09,295.44 L1074.53,295.79 L1074.97,296.13 L1075.41,296.47 L1075.84,296.81 L1076.28,297.15 L1076.72,297.48 L1077.16,297.81 L1077.60,298.15 L1078.04,298.48 L1078.48,298.80 L1078.92,299.13 L1079.36,299.45 L1079.80,299.77 L1080.24,300.09 L1080.82,300.51 L1082.90,301.99 L1084.99,303.43 L1087.08,304.83 L1089.16,306.19 L1091.25,307.51 L1093.33,308.80 L1095.42,310.05 L1097.51,311.27 L1099.59,312.45 L1101.68,313.60 L1103.77,314.71 L1105.85,315.80 L1107.94,316.85 L1110.03,317.88 L1112.11,318.88 L1114.20,319.85 L1116.29,320.79 L1118.37,321.71 L1120.46,322.60 L1122.54,323.46 L1124.63,324.31 L1126.72,325.13 L1128.80,325.92 L1130.89,326.70 L1132.98,327.45 L1135.06,328.18 L1137.15,328.89 L1139.24,329.58 L1141.32,330.25 L1143.41,330.91 L1145.50,331.54 L1147.58,332.16 L1149.67,332.76 L1151.75,333.35 L1153.84,333.91 L1155.93,334.46 L1158.01,335.00 L1160.10,335.52 L1162.19,336.03 L1164.27,336.52 L1166.36,337.00 L1168.45,337.47 L1170.53,337.92 L1172.62,338.36 L1174.71,338.79 L1176.79,339.20 L1178.88,339.61 L1180.96,340.00 L1183.05,340.38 L1185.14,340.76 L1187.22,341.12 L1189.31,341.47 L1191.40,341.81 L1193.48,342.14 L1195.57,342.47 L1197.66,342.78 L1199.74,343.08 L1201.83,343.38 L1203.91,343.67 L1206.00,343.95 L1208.09,344.22 L1210.17,344.49 L1212.26,344.75 L1214.35,345.00 L1216.43,345.24 L1218.52,345.48 L1220.61,345.71 L1222.69,345.93 L1224.78,346.15 L1226.87,346.36 L1228.95,346.56 L1231.04,346.76 L1233.12,346.96 L1235.21,347.15 L1237.30,347.33 L1239.38,347.51 L1241.47,347.68 L1243.56,347.85 L1245.64,348.02 L1247.73,348.18 L1249.82,348.33 L1251.90,348.48 L1253.99,348.63 L1256.08,348.77 L1258.16,348.91 L1260.25,349.04 L1262.33,349.17 L1264.42,349.30 L1266.51,349.43 L1268.59,349.55 L1270.68,349.66 L1272.77,349.78 L1274.85,349.89 L1276.94,349.99 L1279.03,350.10 L1281.11,350.20 L1283.20,350.30 L1285.29,350.39 L1287.37,350.49 L1289.46,350.58 L1291.54,350.67 L1293.63,350.75 L1295.72,350.84 L1297.80,350.92 L1299.89,351.00 L1301.98,351.07 L1304.06,351.15 L1306.15,351.22 L1308.24,351.29 L1310.32,351.36 L1312.41,351.42 L1314.50,351.49 L1316.58,351.55 L1318.67,351.61 L1320.75,351.67 L1322.84,351.73 L1324.93,351.79 L1327.01,351.84 L1329.10,351.89" fill="none" stroke="#55d8dc" stroke-width="1.6" stroke-linejoin="round"/><path d="M1060.56,263.58 L1060.68,263.82 L1060.79,264.05 L1060.91,264.27 L1061.02,264.49 L1061.14,264.70 L1061.25,264.91 L1061.37,265.11 L1061.49,265.31 L1061.60,265.50 L1061.72,265.69 L1061.83,265.88 L1061.95,266.07 L1062.06,266.25 L1062.18,266.44 L1062.30,266.62 L1062.41,266.80 L1062.53,266.97 L1062.64,267.15 L1062.76,267.32 L1062.87,267.49 L1063.11,267.83 L1063.55,268.46 L1063.99,269.07 L1064.42,269.67 L1064.86,270.24 L1065.30,270.80 L1065.74,271.34 L1066.18,271.87 L1066.62,272.38 L1067.06,272.88 L1067.50,273.36 L1067.94,273.84 L1068.38,274.30 L1068.82,274.74 L1069.26,275.18 L1069.70,275.60 L1070.13,276.02 L1070.57,276.42 L1071.01,276.82 L1071.45,277.20 L1071.89,277.58 L1072.33,277.95 L1072.77,278.31 L1073.21,278.66 L1073.65,279.00 L1074.09,279.34 L1074.53,279.67 L1074.97,279.99 L1075.41,280.31 L1075.84,280.62 L1076.28,280.92 L1076.72,281.22 L1077.16,281.52 L1077.60,281.80 L1078.04,282.09 L1078.48,282.36 L1078.92,282.64 L1079.36,282.90 L1079.80,283.17 L1080.24,283.43 L1080.82,283.76 L1082.90,284.92 L1084.99,286.01 L1087.08,287.03 L1089.16,288.00 L1091.25,288.92 L1093.33,289.81 L1095.42,290.67 L1097.51,291.50 L1099.59,292.30 L1101.68,293.09 L1103.77,293.85 L1105.85,294.60 L1107.94,295.33 L1110.03,296.05 L1112.11,296.75 L1114.20,297.44 L1116.29,298.13 L1118.37,298.80 L1120.46,299.46 L1122.54,300.11 L1124.63,300.75 L1126.72,301.39 L1128.80,302.01 L1130.89,302.63 L1132.98,303.24 L1135.06,303.84 L1137.15,304.44 L1139.24,305.02 L1141.32,305.60 L1143.41,306.18 L1145.50,306.74 L1147.58,307.30 L1149.67,307.85 L1151.75,308.40 L1153.84,308.94 L1155.93,309.47 L1158.01,310.00 L1160.10,310.52 L1162.19,311.03 L1164.27,311.54 L1166.36,312.04 L1168.45,312.53 L1170.53,313.02 L1172.62,313.51 L1174.71,313.99 L1176.79,314.46 L1178.88,314.93 L1180.96,315.39 L1183.05,315.84 L1185.14,316.29 L1187.22,316.74 L1189.31,317.18 L1191.40,317.61 L1193.48,318.04 L1195.57,318.46 L1197.66,318.88 L1199.74,319.30 L1201.83,319.71 L1203.91,320.11 L1206.00,320.51 L1208.09,320.91 L1210.17,321.30 L1212.26,321.68 L1214.35,322.06 L1216.43,322.44 L1218.52,322.81 L1220.61,323.18 L1222.69,323.54 L1224.78,323.90 L1226.87,324.25 L1228.95,324.60 L1231.04,324.95 L1233.12,325.29 L1235.21,325.63 L1237.30,325.97 L1239.38,326.30 L1241.47,326.62 L1243.56,326.94 L1245.64,327.26 L1247.73,327.58 L1249.82,327.89 L1251.90,328.19 L1253.99,328.50 L1256.08,328.80 L1258.16,329.09 L1260.25,329.39 L1262.33,329.68 L1264.42,329.96 L1266.51,330.25 L1268.59,330.52 L1270.68,330.80 L1272.77,331.07 L1274.85,331.34 L1276.94,331.61 L1279.03,331.87 L1281.11,332.13 L1283.20,332.39 L1285.29,332.64 L1287.37,332.89 L1289.46,333.14 L1291.54,333.38 L1293.63,333.63 L1295.72,333.87 L1297.80,334.10 L1299.89,334.34 L1301.98,334.57 L1304.06,334.79 L1306.15,335.02 L1308.24,335.24 L1310.32,335.46 L1312.41,335.68 L1314.50,335.89 L1316.58,336.11 L1318.67,336.31 L1320.75,336.52 L1322.84,336.73 L1324.93,336.93 L1327.01,337.13 L1329.10,337.33" fill="none" stroke="#55d8dc" stroke-width="1.65" stroke-linejoin="round"/><path d="M1060.56,283.73 L1060.68,283.84 L1060.79,283.95 L1060.91,284.06 L1061.02,284.17 L1061.14,284.28 L1061.25,284.39 L1061.37,284.50 L1061.49,284.61 L1061.60,284.72 L1061.72,284.83 L1061.83,284.93 L1061.95,285.04 L1062.06,285.15 L1062.18,285.26 L1062.30,285.36 L1062.41,285.47 L1062.53,285.58 L1062.64,285.68 L1062.76,285.79 L1062.87,285.90 L1063.11,286.11 L1063.55,286.51 L1063.99,286.91 L1064.42,287.30 L1064.86,287.70 L1065.30,288.09 L1065.74,288.48 L1066.18,288.86 L1066.62,289.25 L1067.06,289.63 L1067.50,290.01 L1067.94,290.39 L1068.38,290.76 L1068.82,291.13 L1069.26,291.50 L1069.70,291.87 L1070.13,292.24 L1070.57,292.60 L1071.01,292.97 L1071.45,293.33 L1071.89,293.68 L1072.33,294.04 L1072.77,294.39 L1073.21,294.74 L1073.65,295.09 L1074.09,295.44 L1074.53,295.79 L1074.97,296.13 L1075.41,296.47 L1075.84,296.81 L1076.28,297.15 L1076.72,297.48 L1077.16,297.81 L1077.60,298.15 L1078.04,298.48 L1078.48,298.80 L1078.92,299.13 L1079.36,299.45 L1079.80,299.77 L1080.24,300.09 L1080.82,300.51 L1082.90,301.99 L1084.99,303.43 L1087.08,304.83 L1089.16,306.19 L1091.25,307.51 L1093.33,308.80 L1095.42,310.05 L1097.51,311.27 L1099.59,312.45 L1101.68,313.60 L1103.77,314.71 L1105.85,315.80 L1107.94,316.85 L1110.03,317.88 L1112.11,318.88 L1114.20,319.85 L1116.29,320.79 L1118.37,321.71 L1120.46,322.60 L1122.54,323.46 L1124.63,324.31 L1126.72,325.13 L1128.80,325.92 L1130.89,326.70 L1132.98,327.45 L1135.06,328.18 L1137.15,328.89 L1139.24,329.58 L1141.32,330.25 L1143.41,330.91 L1145.50,331.54 L1147.58,332.16 L1149.67,332.76 L1151.75,333.35 L1153.84,333.91 L1155.93,334.46 L1158.01,335.00 L1160.10,335.52 L1162.19,336.03 L1164.27,336.52 L1166.36,337.00 L1168.45,337.47 L1170.53,337.92 L1172.62,338.36 L1174.71,338.79 L1176.79,339.20 L1178.88,339.61 L1180.96,340.00 L1183.05,340.38 L1185.14,340.76 L1187.22,341.12 L1189.31,341.47 L1191.40,341.81 L1193.48,342.14 L1195.57,342.47 L1197.66,342.78 L1199.74,343.08 L1201.83,343.38 L1203.91,343.67 L1206.00,343.95 L1208.09,344.22 L1210.17,344.49 L1212.26,344.75 L1214.35,345.00 L1216.43,345.24 L1218.52,345.48 L1220.61,345.71 L1222.69,345.93 L1224.78,346.15 L1226.87,346.36 L1228.95,346.56 L1231.04,346.76 L1233.12,346.96 L1235.21,347.15 L1237.30,347.33 L1239.38,347.51 L1241.47,347.68 L1243.56,347.85 L1245.64,348.02 L1247.73,348.18 L1249.82,348.33 L1251.90,348.48 L1253.99,348.63 L1256.08,348.77 L1258.16,348.91 L1260.25,349.04 L1262.33,349.17 L1264.42,349.30 L1266.51,349.43 L1268.59,349.55 L1270.68,349.66 L1272.77,349.78 L1274.85,349.89 L1276.94,349.99 L1279.03,350.10 L1281.11,350.20 L1283.20,350.30 L1285.29,350.39 L1287.37,350.49 L1289.46,350.58 L1291.54,350.67 L1293.63,350.75 L1295.72,350.84 L1297.80,350.92 L1299.89,351.00 L1301.98,351.07 L1304.06,351.15 L1306.15,351.22 L1308.24,351.29 L1310.32,351.36 L1312.41,351.42 L1314.50,351.49 L1316.58,351.55 L1318.67,351.61 L1320.75,351.67 L1322.84,351.73 L1324.93,351.79 L1327.01,351.84 L1329.10,351.89" fill="none" stroke="#55d8dc" stroke-width="1.65" stroke-linejoin="round"/></g>
<rect x="0" y="421" width="1350" height="3" fill="#fff"/>
</svg>
</body></html>
